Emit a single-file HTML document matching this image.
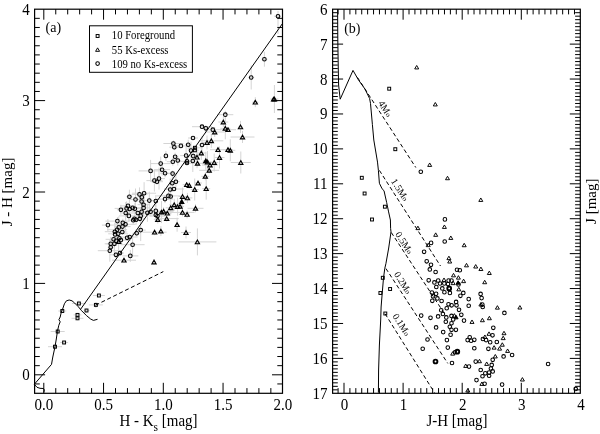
<!DOCTYPE html>
<html><head><meta charset="utf-8"><style>
html,body{margin:0;padding:0;background:#fff;}
svg{display:block;font-family:"Liberation Serif",serif;will-change:transform;}
</style></head><body>
<svg width="600" height="434" viewBox="0 0 600 434">
<rect width="600" height="434" fill="#fff"/>
<line x1="274.00" y1="16.20" x2="281.00" y2="16.20" stroke="#d4d4d4" stroke-width="1.0" />
<line x1="278.00" y1="11.00" x2="278.00" y2="34.00" stroke="#d4d4d4" stroke-width="1.0" />
<line x1="261.40" y1="59.20" x2="267.40" y2="59.20" stroke="#d4d4d4" stroke-width="1.0" />
<line x1="264.40" y1="51.70" x2="264.40" y2="66.70" stroke="#d4d4d4" stroke-width="1.0" />
<line x1="248.20" y1="77.50" x2="254.20" y2="77.50" stroke="#d4d4d4" stroke-width="1.0" />
<line x1="251.20" y1="65.50" x2="251.20" y2="89.50" stroke="#d4d4d4" stroke-width="1.0" />
<line x1="217.30" y1="114.70" x2="233.30" y2="114.70" stroke="#d4d4d4" stroke-width="1.0" />
<line x1="225.30" y1="110.70" x2="225.30" y2="118.70" stroke="#d4d4d4" stroke-width="1.0" />
<line x1="192.00" y1="126.70" x2="212.00" y2="126.70" stroke="#d4d4d4" stroke-width="1.0" />
<line x1="202.00" y1="124.70" x2="202.00" y2="128.70" stroke="#d4d4d4" stroke-width="1.0" />
<line x1="202.80" y1="128.30" x2="208.80" y2="128.30" stroke="#d4d4d4" stroke-width="1.0" />
<line x1="205.80" y1="125.30" x2="205.80" y2="131.30" stroke="#d4d4d4" stroke-width="1.0" />
<line x1="204.80" y1="129.70" x2="220.80" y2="129.70" stroke="#d4d4d4" stroke-width="1.0" />
<line x1="212.80" y1="127.70" x2="212.80" y2="131.70" stroke="#d4d4d4" stroke-width="1.0" />
<line x1="188.00" y1="138.00" x2="198.00" y2="138.00" stroke="#d4d4d4" stroke-width="1.0" />
<line x1="193.00" y1="136.00" x2="193.00" y2="140.00" stroke="#d4d4d4" stroke-width="1.0" />
<line x1="199.00" y1="145.00" x2="205.00" y2="145.00" stroke="#d4d4d4" stroke-width="1.0" />
<line x1="202.00" y1="136.00" x2="202.00" y2="154.00" stroke="#d4d4d4" stroke-width="1.0" />
<line x1="163.40" y1="143.50" x2="183.40" y2="143.50" stroke="#d4d4d4" stroke-width="1.0" />
<line x1="173.40" y1="140.50" x2="173.40" y2="146.50" stroke="#d4d4d4" stroke-width="1.0" />
<line x1="169.30" y1="147.20" x2="179.30" y2="147.20" stroke="#d4d4d4" stroke-width="1.0" />
<line x1="174.30" y1="144.20" x2="174.30" y2="150.20" stroke="#d4d4d4" stroke-width="1.0" />
<line x1="170.90" y1="145.90" x2="190.90" y2="145.90" stroke="#d4d4d4" stroke-width="1.0" />
<line x1="180.90" y1="143.90" x2="180.90" y2="147.90" stroke="#d4d4d4" stroke-width="1.0" />
<line x1="185.20" y1="144.70" x2="191.20" y2="144.70" stroke="#d4d4d4" stroke-width="1.0" />
<line x1="188.20" y1="139.70" x2="188.20" y2="149.70" stroke="#d4d4d4" stroke-width="1.0" />
<line x1="189.00" y1="150.60" x2="193.00" y2="150.60" stroke="#d4d4d4" stroke-width="1.0" />
<line x1="191.00" y1="141.60" x2="191.00" y2="159.60" stroke="#d4d4d4" stroke-width="1.0" />
<line x1="163.90" y1="155.90" x2="167.90" y2="155.90" stroke="#d4d4d4" stroke-width="1.0" />
<line x1="165.90" y1="150.90" x2="165.90" y2="160.90" stroke="#d4d4d4" stroke-width="1.0" />
<line x1="173.10" y1="156.70" x2="177.10" y2="156.70" stroke="#d4d4d4" stroke-width="1.0" />
<line x1="175.10" y1="152.70" x2="175.10" y2="160.70" stroke="#d4d4d4" stroke-width="1.0" />
<line x1="180.10" y1="155.60" x2="192.10" y2="155.60" stroke="#d4d4d4" stroke-width="1.0" />
<line x1="186.10" y1="146.60" x2="186.10" y2="164.60" stroke="#d4d4d4" stroke-width="1.0" />
<line x1="189.20" y1="156.10" x2="197.20" y2="156.10" stroke="#d4d4d4" stroke-width="1.0" />
<line x1="193.20" y1="153.10" x2="193.20" y2="159.10" stroke="#d4d4d4" stroke-width="1.0" />
<line x1="166.80" y1="161.70" x2="178.80" y2="161.70" stroke="#d4d4d4" stroke-width="1.0" />
<line x1="172.80" y1="157.70" x2="172.80" y2="165.70" stroke="#d4d4d4" stroke-width="1.0" />
<line x1="174.80" y1="160.50" x2="180.80" y2="160.50" stroke="#d4d4d4" stroke-width="1.0" />
<line x1="177.80" y1="155.50" x2="177.80" y2="165.50" stroke="#d4d4d4" stroke-width="1.0" />
<line x1="179.00" y1="161.30" x2="195.00" y2="161.30" stroke="#d4d4d4" stroke-width="1.0" />
<line x1="187.00" y1="158.30" x2="187.00" y2="164.30" stroke="#d4d4d4" stroke-width="1.0" />
<line x1="184.00" y1="163.00" x2="190.00" y2="163.00" stroke="#d4d4d4" stroke-width="1.0" />
<line x1="187.00" y1="161.00" x2="187.00" y2="165.00" stroke="#d4d4d4" stroke-width="1.0" />
<line x1="187.80" y1="161.00" x2="197.80" y2="161.00" stroke="#d4d4d4" stroke-width="1.0" />
<line x1="192.80" y1="150.00" x2="192.80" y2="172.00" stroke="#d4d4d4" stroke-width="1.0" />
<line x1="150.70" y1="163.60" x2="170.70" y2="163.60" stroke="#d4d4d4" stroke-width="1.0" />
<line x1="160.70" y1="156.60" x2="160.70" y2="170.60" stroke="#d4d4d4" stroke-width="1.0" />
<line x1="138.60" y1="170.90" x2="162.60" y2="170.90" stroke="#d4d4d4" stroke-width="1.0" />
<line x1="150.60" y1="159.90" x2="150.60" y2="181.90" stroke="#d4d4d4" stroke-width="1.0" />
<line x1="154.10" y1="169.70" x2="170.10" y2="169.70" stroke="#d4d4d4" stroke-width="1.0" />
<line x1="162.10" y1="163.70" x2="162.10" y2="175.70" stroke="#d4d4d4" stroke-width="1.0" />
<line x1="160.10" y1="173.20" x2="170.10" y2="173.20" stroke="#d4d4d4" stroke-width="1.0" />
<line x1="165.10" y1="169.20" x2="165.10" y2="177.20" stroke="#d4d4d4" stroke-width="1.0" />
<line x1="167.60" y1="173.60" x2="177.60" y2="173.60" stroke="#d4d4d4" stroke-width="1.0" />
<line x1="172.60" y1="170.60" x2="172.60" y2="176.60" stroke="#d4d4d4" stroke-width="1.0" />
<line x1="153.00" y1="178.60" x2="165.00" y2="178.60" stroke="#d4d4d4" stroke-width="1.0" />
<line x1="159.00" y1="167.60" x2="159.00" y2="189.60" stroke="#d4d4d4" stroke-width="1.0" />
<line x1="146.40" y1="180.60" x2="162.40" y2="180.60" stroke="#d4d4d4" stroke-width="1.0" />
<line x1="154.40" y1="169.60" x2="154.40" y2="191.60" stroke="#d4d4d4" stroke-width="1.0" />
<line x1="151.00" y1="181.70" x2="163.00" y2="181.70" stroke="#d4d4d4" stroke-width="1.0" />
<line x1="157.00" y1="178.70" x2="157.00" y2="184.70" stroke="#d4d4d4" stroke-width="1.0" />
<line x1="169.30" y1="183.20" x2="175.30" y2="183.20" stroke="#d4d4d4" stroke-width="1.0" />
<line x1="172.30" y1="174.20" x2="172.30" y2="192.20" stroke="#d4d4d4" stroke-width="1.0" />
<line x1="171.90" y1="181.70" x2="179.90" y2="181.70" stroke="#d4d4d4" stroke-width="1.0" />
<line x1="175.90" y1="174.70" x2="175.90" y2="188.70" stroke="#d4d4d4" stroke-width="1.0" />
<line x1="166.20" y1="189.50" x2="174.20" y2="189.50" stroke="#d4d4d4" stroke-width="1.0" />
<line x1="170.20" y1="178.50" x2="170.20" y2="200.50" stroke="#d4d4d4" stroke-width="1.0" />
<line x1="164.00" y1="189.00" x2="184.00" y2="189.00" stroke="#d4d4d4" stroke-width="1.0" />
<line x1="174.00" y1="187.00" x2="174.00" y2="191.00" stroke="#d4d4d4" stroke-width="1.0" />
<line x1="126.40" y1="196.70" x2="132.40" y2="196.70" stroke="#d4d4d4" stroke-width="1.0" />
<line x1="129.40" y1="189.70" x2="129.40" y2="203.70" stroke="#d4d4d4" stroke-width="1.0" />
<line x1="131.50" y1="194.40" x2="147.50" y2="194.40" stroke="#d4d4d4" stroke-width="1.0" />
<line x1="139.50" y1="187.40" x2="139.50" y2="201.40" stroke="#d4d4d4" stroke-width="1.0" />
<line x1="132.10" y1="193.20" x2="156.10" y2="193.20" stroke="#d4d4d4" stroke-width="1.0" />
<line x1="144.10" y1="182.20" x2="144.10" y2="204.20" stroke="#d4d4d4" stroke-width="1.0" />
<line x1="138.80" y1="197.20" x2="144.80" y2="197.20" stroke="#d4d4d4" stroke-width="1.0" />
<line x1="141.80" y1="194.20" x2="141.80" y2="200.20" stroke="#d4d4d4" stroke-width="1.0" />
<line x1="129.50" y1="199.50" x2="141.50" y2="199.50" stroke="#d4d4d4" stroke-width="1.0" />
<line x1="135.50" y1="188.50" x2="135.50" y2="210.50" stroke="#d4d4d4" stroke-width="1.0" />
<line x1="138.60" y1="201.50" x2="144.60" y2="201.50" stroke="#d4d4d4" stroke-width="1.0" />
<line x1="141.60" y1="199.50" x2="141.60" y2="203.50" stroke="#d4d4d4" stroke-width="1.0" />
<line x1="137.60" y1="204.70" x2="149.60" y2="204.70" stroke="#d4d4d4" stroke-width="1.0" />
<line x1="143.60" y1="193.70" x2="143.60" y2="215.70" stroke="#d4d4d4" stroke-width="1.0" />
<line x1="137.60" y1="207.90" x2="149.60" y2="207.90" stroke="#d4d4d4" stroke-width="1.0" />
<line x1="143.60" y1="198.90" x2="143.60" y2="216.90" stroke="#d4d4d4" stroke-width="1.0" />
<line x1="120.00" y1="205.90" x2="136.00" y2="205.90" stroke="#d4d4d4" stroke-width="1.0" />
<line x1="128.00" y1="203.90" x2="128.00" y2="207.90" stroke="#d4d4d4" stroke-width="1.0" />
<line x1="114.60" y1="208.40" x2="138.60" y2="208.40" stroke="#d4d4d4" stroke-width="1.0" />
<line x1="126.60" y1="201.40" x2="126.60" y2="215.40" stroke="#d4d4d4" stroke-width="1.0" />
<line x1="125.70" y1="209.00" x2="133.70" y2="209.00" stroke="#d4d4d4" stroke-width="1.0" />
<line x1="129.70" y1="206.00" x2="129.70" y2="212.00" stroke="#d4d4d4" stroke-width="1.0" />
<line x1="120.60" y1="207.90" x2="144.60" y2="207.90" stroke="#d4d4d4" stroke-width="1.0" />
<line x1="132.60" y1="205.90" x2="132.60" y2="209.90" stroke="#d4d4d4" stroke-width="1.0" />
<line x1="129.90" y1="208.70" x2="139.90" y2="208.70" stroke="#d4d4d4" stroke-width="1.0" />
<line x1="134.90" y1="202.70" x2="134.90" y2="214.70" stroke="#d4d4d4" stroke-width="1.0" />
<line x1="116.90" y1="209.80" x2="124.90" y2="209.80" stroke="#d4d4d4" stroke-width="1.0" />
<line x1="120.90" y1="204.80" x2="120.90" y2="214.80" stroke="#d4d4d4" stroke-width="1.0" />
<line x1="131.60" y1="211.70" x2="151.60" y2="211.70" stroke="#d4d4d4" stroke-width="1.0" />
<line x1="141.60" y1="202.70" x2="141.60" y2="220.70" stroke="#d4d4d4" stroke-width="1.0" />
<line x1="125.80" y1="213.00" x2="149.80" y2="213.00" stroke="#d4d4d4" stroke-width="1.0" />
<line x1="137.80" y1="210.00" x2="137.80" y2="216.00" stroke="#d4d4d4" stroke-width="1.0" />
<line x1="121.70" y1="213.00" x2="129.70" y2="213.00" stroke="#d4d4d4" stroke-width="1.0" />
<line x1="125.70" y1="202.00" x2="125.70" y2="224.00" stroke="#d4d4d4" stroke-width="1.0" />
<line x1="118.90" y1="215.90" x2="138.90" y2="215.90" stroke="#d4d4d4" stroke-width="1.0" />
<line x1="128.90" y1="209.90" x2="128.90" y2="221.90" stroke="#d4d4d4" stroke-width="1.0" />
<line x1="136.70" y1="215.90" x2="144.70" y2="215.90" stroke="#d4d4d4" stroke-width="1.0" />
<line x1="140.70" y1="206.90" x2="140.70" y2="224.90" stroke="#d4d4d4" stroke-width="1.0" />
<line x1="141.40" y1="212.80" x2="153.40" y2="212.80" stroke="#d4d4d4" stroke-width="1.0" />
<line x1="147.40" y1="203.80" x2="147.40" y2="221.80" stroke="#d4d4d4" stroke-width="1.0" />
<line x1="141.30" y1="200.60" x2="157.30" y2="200.60" stroke="#d4d4d4" stroke-width="1.0" />
<line x1="149.30" y1="191.60" x2="149.30" y2="209.60" stroke="#d4d4d4" stroke-width="1.0" />
<line x1="128.20" y1="220.20" x2="138.20" y2="220.20" stroke="#d4d4d4" stroke-width="1.0" />
<line x1="133.20" y1="216.20" x2="133.20" y2="224.20" stroke="#d4d4d4" stroke-width="1.0" />
<line x1="131.40" y1="218.80" x2="137.40" y2="218.80" stroke="#d4d4d4" stroke-width="1.0" />
<line x1="134.40" y1="214.80" x2="134.40" y2="222.80" stroke="#d4d4d4" stroke-width="1.0" />
<line x1="132.10" y1="219.70" x2="140.10" y2="219.70" stroke="#d4d4d4" stroke-width="1.0" />
<line x1="136.10" y1="214.70" x2="136.10" y2="224.70" stroke="#d4d4d4" stroke-width="1.0" />
<line x1="134.80" y1="218.80" x2="144.80" y2="218.80" stroke="#d4d4d4" stroke-width="1.0" />
<line x1="139.80" y1="216.80" x2="139.80" y2="220.80" stroke="#d4d4d4" stroke-width="1.0" />
<line x1="105.40" y1="221.10" x2="129.40" y2="221.10" stroke="#d4d4d4" stroke-width="1.0" />
<line x1="117.40" y1="217.10" x2="117.40" y2="225.10" stroke="#d4d4d4" stroke-width="1.0" />
<line x1="101.90" y1="225.10" x2="113.90" y2="225.10" stroke="#d4d4d4" stroke-width="1.0" />
<line x1="107.90" y1="219.10" x2="107.90" y2="231.10" stroke="#d4d4d4" stroke-width="1.0" />
<line x1="120.80" y1="222.80" x2="124.80" y2="222.80" stroke="#d4d4d4" stroke-width="1.0" />
<line x1="122.80" y1="218.80" x2="122.80" y2="226.80" stroke="#d4d4d4" stroke-width="1.0" />
<line x1="115.50" y1="224.30" x2="135.50" y2="224.30" stroke="#d4d4d4" stroke-width="1.0" />
<line x1="125.50" y1="217.30" x2="125.50" y2="231.30" stroke="#d4d4d4" stroke-width="1.0" />
<line x1="114.50" y1="226.60" x2="130.50" y2="226.60" stroke="#d4d4d4" stroke-width="1.0" />
<line x1="122.50" y1="222.60" x2="122.50" y2="230.60" stroke="#d4d4d4" stroke-width="1.0" />
<line x1="116.80" y1="227.40" x2="120.80" y2="227.40" stroke="#d4d4d4" stroke-width="1.0" />
<line x1="118.80" y1="216.40" x2="118.80" y2="238.40" stroke="#d4d4d4" stroke-width="1.0" />
<line x1="107.10" y1="229.70" x2="127.10" y2="229.70" stroke="#d4d4d4" stroke-width="1.0" />
<line x1="117.10" y1="220.70" x2="117.10" y2="238.70" stroke="#d4d4d4" stroke-width="1.0" />
<line x1="104.80" y1="231.70" x2="124.80" y2="231.70" stroke="#d4d4d4" stroke-width="1.0" />
<line x1="114.80" y1="222.70" x2="114.80" y2="240.70" stroke="#d4d4d4" stroke-width="1.0" />
<line x1="112.10" y1="234.40" x2="118.10" y2="234.40" stroke="#d4d4d4" stroke-width="1.0" />
<line x1="115.10" y1="223.40" x2="115.10" y2="245.40" stroke="#d4d4d4" stroke-width="1.0" />
<line x1="108.20" y1="233.80" x2="128.20" y2="233.80" stroke="#d4d4d4" stroke-width="1.0" />
<line x1="118.20" y1="231.80" x2="118.20" y2="235.80" stroke="#d4d4d4" stroke-width="1.0" />
<line x1="117.30" y1="232.00" x2="127.30" y2="232.00" stroke="#d4d4d4" stroke-width="1.0" />
<line x1="122.30" y1="229.00" x2="122.30" y2="235.00" stroke="#d4d4d4" stroke-width="1.0" />
<line x1="135.70" y1="230.10" x2="145.70" y2="230.10" stroke="#d4d4d4" stroke-width="1.0" />
<line x1="140.70" y1="219.10" x2="140.70" y2="241.10" stroke="#d4d4d4" stroke-width="1.0" />
<line x1="132.70" y1="233.20" x2="140.70" y2="233.20" stroke="#d4d4d4" stroke-width="1.0" />
<line x1="136.70" y1="230.20" x2="136.70" y2="236.20" stroke="#d4d4d4" stroke-width="1.0" />
<line x1="105.60" y1="239.30" x2="121.60" y2="239.30" stroke="#d4d4d4" stroke-width="1.0" />
<line x1="113.60" y1="237.30" x2="113.60" y2="241.30" stroke="#d4d4d4" stroke-width="1.0" />
<line x1="116.40" y1="238.20" x2="122.40" y2="238.20" stroke="#d4d4d4" stroke-width="1.0" />
<line x1="119.40" y1="236.20" x2="119.40" y2="240.20" stroke="#d4d4d4" stroke-width="1.0" />
<line x1="123.10" y1="237.80" x2="131.10" y2="237.80" stroke="#d4d4d4" stroke-width="1.0" />
<line x1="127.10" y1="234.80" x2="127.10" y2="240.80" stroke="#d4d4d4" stroke-width="1.0" />
<line x1="121.70" y1="237.00" x2="137.70" y2="237.00" stroke="#d4d4d4" stroke-width="1.0" />
<line x1="129.70" y1="235.00" x2="129.70" y2="239.00" stroke="#d4d4d4" stroke-width="1.0" />
<line x1="113.30" y1="240.90" x2="119.30" y2="240.90" stroke="#d4d4d4" stroke-width="1.0" />
<line x1="116.30" y1="235.90" x2="116.30" y2="245.90" stroke="#d4d4d4" stroke-width="1.0" />
<line x1="110.90" y1="240.10" x2="130.90" y2="240.10" stroke="#d4d4d4" stroke-width="1.0" />
<line x1="120.90" y1="236.10" x2="120.90" y2="244.10" stroke="#d4d4d4" stroke-width="1.0" />
<line x1="104.70" y1="243.80" x2="116.70" y2="243.80" stroke="#d4d4d4" stroke-width="1.0" />
<line x1="110.70" y1="236.80" x2="110.70" y2="250.80" stroke="#d4d4d4" stroke-width="1.0" />
<line x1="106.40" y1="243.80" x2="122.40" y2="243.80" stroke="#d4d4d4" stroke-width="1.0" />
<line x1="114.40" y1="232.80" x2="114.40" y2="254.80" stroke="#d4d4d4" stroke-width="1.0" />
<line x1="107.70" y1="247.30" x2="113.70" y2="247.30" stroke="#d4d4d4" stroke-width="1.0" />
<line x1="110.70" y1="244.30" x2="110.70" y2="250.30" stroke="#d4d4d4" stroke-width="1.0" />
<line x1="97.80" y1="250.70" x2="121.80" y2="250.70" stroke="#d4d4d4" stroke-width="1.0" />
<line x1="109.80" y1="239.70" x2="109.80" y2="261.70" stroke="#d4d4d4" stroke-width="1.0" />
<line x1="120.60" y1="244.70" x2="144.60" y2="244.70" stroke="#d4d4d4" stroke-width="1.0" />
<line x1="132.60" y1="233.70" x2="132.60" y2="255.70" stroke="#d4d4d4" stroke-width="1.0" />
<line x1="109.90" y1="254.80" x2="121.90" y2="254.80" stroke="#d4d4d4" stroke-width="1.0" />
<line x1="115.90" y1="251.80" x2="115.90" y2="257.80" stroke="#d4d4d4" stroke-width="1.0" />
<line x1="116.00" y1="253.00" x2="124.00" y2="253.00" stroke="#d4d4d4" stroke-width="1.0" />
<line x1="120.00" y1="250.00" x2="120.00" y2="256.00" stroke="#d4d4d4" stroke-width="1.0" />
<line x1="122.30" y1="255.90" x2="138.30" y2="255.90" stroke="#d4d4d4" stroke-width="1.0" />
<line x1="130.30" y1="249.90" x2="130.30" y2="261.90" stroke="#d4d4d4" stroke-width="1.0" />
<line x1="156.40" y1="195.90" x2="180.40" y2="195.90" stroke="#d4d4d4" stroke-width="1.0" />
<line x1="168.40" y1="191.90" x2="168.40" y2="199.90" stroke="#d4d4d4" stroke-width="1.0" />
<line x1="168.70" y1="196.50" x2="172.70" y2="196.50" stroke="#d4d4d4" stroke-width="1.0" />
<line x1="170.70" y1="191.50" x2="170.70" y2="201.50" stroke="#d4d4d4" stroke-width="1.0" />
<line x1="157.00" y1="199.10" x2="173.00" y2="199.10" stroke="#d4d4d4" stroke-width="1.0" />
<line x1="165.00" y1="195.10" x2="165.00" y2="203.10" stroke="#d4d4d4" stroke-width="1.0" />
<line x1="153.80" y1="201.10" x2="157.80" y2="201.10" stroke="#d4d4d4" stroke-width="1.0" />
<line x1="155.80" y1="195.10" x2="155.80" y2="207.10" stroke="#d4d4d4" stroke-width="1.0" />
<line x1="152.80" y1="210.90" x2="158.80" y2="210.90" stroke="#d4d4d4" stroke-width="1.0" />
<line x1="155.80" y1="204.90" x2="155.80" y2="216.90" stroke="#d4d4d4" stroke-width="1.0" />
<line x1="142.60" y1="211.70" x2="158.60" y2="211.70" stroke="#d4d4d4" stroke-width="1.0" />
<line x1="150.60" y1="207.70" x2="150.60" y2="215.70" stroke="#d4d4d4" stroke-width="1.0" />
<line x1="147.80" y1="215.00" x2="163.80" y2="215.00" stroke="#d4d4d4" stroke-width="1.0" />
<line x1="155.80" y1="210.00" x2="155.80" y2="220.00" stroke="#d4d4d4" stroke-width="1.0" />
<line x1="149.50" y1="216.10" x2="165.50" y2="216.10" stroke="#d4d4d4" stroke-width="1.0" />
<line x1="157.50" y1="211.10" x2="157.50" y2="221.10" stroke="#d4d4d4" stroke-width="1.0" />
<line x1="252.30" y1="102.20" x2="258.30" y2="102.20" stroke="#d4d4d4" stroke-width="1.0" />
<line x1="255.30" y1="97.20" x2="255.30" y2="107.20" stroke="#d4d4d4" stroke-width="1.0" />
<line x1="270.40" y1="99.00" x2="278.40" y2="99.00" stroke="#d4d4d4" stroke-width="1.0" />
<line x1="274.40" y1="85.00" x2="274.40" y2="113.00" stroke="#d4d4d4" stroke-width="1.0" />
<line x1="218.30" y1="122.00" x2="228.30" y2="122.00" stroke="#d4d4d4" stroke-width="1.0" />
<line x1="223.30" y1="117.00" x2="223.30" y2="127.00" stroke="#d4d4d4" stroke-width="1.0" />
<line x1="204.70" y1="132.00" x2="224.70" y2="132.00" stroke="#d4d4d4" stroke-width="1.0" />
<line x1="214.70" y1="127.00" x2="214.70" y2="137.00" stroke="#d4d4d4" stroke-width="1.0" />
<line x1="220.30" y1="128.30" x2="230.30" y2="128.30" stroke="#d4d4d4" stroke-width="1.0" />
<line x1="225.30" y1="117.30" x2="225.30" y2="139.30" stroke="#d4d4d4" stroke-width="1.0" />
<line x1="220.00" y1="129.70" x2="236.00" y2="129.70" stroke="#d4d4d4" stroke-width="1.0" />
<line x1="228.00" y1="127.70" x2="228.00" y2="131.70" stroke="#d4d4d4" stroke-width="1.0" />
<line x1="238.50" y1="126.90" x2="242.50" y2="126.90" stroke="#d4d4d4" stroke-width="1.0" />
<line x1="240.50" y1="120.90" x2="240.50" y2="132.90" stroke="#d4d4d4" stroke-width="1.0" />
<line x1="230.50" y1="137.00" x2="254.50" y2="137.00" stroke="#d4d4d4" stroke-width="1.0" />
<line x1="242.50" y1="131.00" x2="242.50" y2="143.00" stroke="#d4d4d4" stroke-width="1.0" />
<line x1="202.00" y1="142.50" x2="212.00" y2="142.50" stroke="#d4d4d4" stroke-width="1.0" />
<line x1="207.00" y1="135.50" x2="207.00" y2="149.50" stroke="#d4d4d4" stroke-width="1.0" />
<line x1="199.30" y1="140.80" x2="223.30" y2="140.80" stroke="#d4d4d4" stroke-width="1.0" />
<line x1="211.30" y1="133.80" x2="211.30" y2="147.80" stroke="#d4d4d4" stroke-width="1.0" />
<line x1="210.00" y1="149.70" x2="226.00" y2="149.70" stroke="#d4d4d4" stroke-width="1.0" />
<line x1="218.00" y1="146.70" x2="218.00" y2="152.70" stroke="#d4d4d4" stroke-width="1.0" />
<line x1="223.00" y1="149.70" x2="233.00" y2="149.70" stroke="#d4d4d4" stroke-width="1.0" />
<line x1="228.00" y1="146.70" x2="228.00" y2="152.70" stroke="#d4d4d4" stroke-width="1.0" />
<line x1="225.30" y1="150.30" x2="235.30" y2="150.30" stroke="#d4d4d4" stroke-width="1.0" />
<line x1="230.30" y1="139.30" x2="230.30" y2="161.30" stroke="#d4d4d4" stroke-width="1.0" />
<line x1="196.30" y1="153.00" x2="206.30" y2="153.00" stroke="#d4d4d4" stroke-width="1.0" />
<line x1="201.30" y1="146.00" x2="201.30" y2="160.00" stroke="#d4d4d4" stroke-width="1.0" />
<line x1="214.50" y1="157.50" x2="224.50" y2="157.50" stroke="#d4d4d4" stroke-width="1.0" />
<line x1="219.50" y1="146.50" x2="219.50" y2="168.50" stroke="#d4d4d4" stroke-width="1.0" />
<line x1="195.00" y1="157.20" x2="199.00" y2="157.20" stroke="#d4d4d4" stroke-width="1.0" />
<line x1="197.00" y1="146.20" x2="197.00" y2="168.20" stroke="#d4d4d4" stroke-width="1.0" />
<line x1="189.50" y1="163.30" x2="205.50" y2="163.30" stroke="#d4d4d4" stroke-width="1.0" />
<line x1="197.50" y1="160.30" x2="197.50" y2="166.30" stroke="#d4d4d4" stroke-width="1.0" />
<line x1="202.80" y1="160.80" x2="208.80" y2="160.80" stroke="#d4d4d4" stroke-width="1.0" />
<line x1="205.80" y1="151.80" x2="205.80" y2="169.80" stroke="#d4d4d4" stroke-width="1.0" />
<line x1="202.50" y1="162.00" x2="212.50" y2="162.00" stroke="#d4d4d4" stroke-width="1.0" />
<line x1="207.50" y1="151.00" x2="207.50" y2="173.00" stroke="#d4d4d4" stroke-width="1.0" />
<line x1="210.20" y1="162.50" x2="218.20" y2="162.50" stroke="#d4d4d4" stroke-width="1.0" />
<line x1="214.20" y1="153.50" x2="214.20" y2="171.50" stroke="#d4d4d4" stroke-width="1.0" />
<line x1="202.00" y1="165.00" x2="218.00" y2="165.00" stroke="#d4d4d4" stroke-width="1.0" />
<line x1="210.00" y1="162.00" x2="210.00" y2="168.00" stroke="#d4d4d4" stroke-width="1.0" />
<line x1="230.80" y1="162.50" x2="250.80" y2="162.50" stroke="#d4d4d4" stroke-width="1.0" />
<line x1="240.80" y1="151.50" x2="240.80" y2="173.50" stroke="#d4d4d4" stroke-width="1.0" />
<line x1="199.20" y1="170.30" x2="219.20" y2="170.30" stroke="#d4d4d4" stroke-width="1.0" />
<line x1="209.20" y1="167.30" x2="209.20" y2="173.30" stroke="#d4d4d4" stroke-width="1.0" />
<line x1="201.30" y1="176.30" x2="209.30" y2="176.30" stroke="#d4d4d4" stroke-width="1.0" />
<line x1="205.30" y1="172.30" x2="205.30" y2="180.30" stroke="#d4d4d4" stroke-width="1.0" />
<line x1="194.00" y1="183.00" x2="202.00" y2="183.00" stroke="#d4d4d4" stroke-width="1.0" />
<line x1="198.00" y1="181.00" x2="198.00" y2="185.00" stroke="#d4d4d4" stroke-width="1.0" />
<line x1="190.70" y1="189.50" x2="198.70" y2="189.50" stroke="#d4d4d4" stroke-width="1.0" />
<line x1="194.70" y1="178.50" x2="194.70" y2="200.50" stroke="#d4d4d4" stroke-width="1.0" />
<line x1="202.20" y1="188.70" x2="210.20" y2="188.70" stroke="#d4d4d4" stroke-width="1.0" />
<line x1="206.20" y1="177.70" x2="206.20" y2="199.70" stroke="#d4d4d4" stroke-width="1.0" />
<line x1="187.50" y1="208.30" x2="203.50" y2="208.30" stroke="#d4d4d4" stroke-width="1.0" />
<line x1="195.50" y1="204.30" x2="195.50" y2="212.30" stroke="#d4d4d4" stroke-width="1.0" />
<line x1="182.70" y1="184.70" x2="190.70" y2="184.70" stroke="#d4d4d4" stroke-width="1.0" />
<line x1="186.70" y1="182.70" x2="186.70" y2="186.70" stroke="#d4d4d4" stroke-width="1.0" />
<line x1="187.30" y1="185.50" x2="191.30" y2="185.50" stroke="#d4d4d4" stroke-width="1.0" />
<line x1="189.30" y1="182.50" x2="189.30" y2="188.50" stroke="#d4d4d4" stroke-width="1.0" />
<line x1="178.50" y1="196.50" x2="186.50" y2="196.50" stroke="#d4d4d4" stroke-width="1.0" />
<line x1="182.50" y1="187.50" x2="182.50" y2="205.50" stroke="#d4d4d4" stroke-width="1.0" />
<line x1="182.40" y1="197.90" x2="192.40" y2="197.90" stroke="#d4d4d4" stroke-width="1.0" />
<line x1="187.40" y1="192.90" x2="187.40" y2="202.90" stroke="#d4d4d4" stroke-width="1.0" />
<line x1="179.70" y1="201.70" x2="183.70" y2="201.70" stroke="#d4d4d4" stroke-width="1.0" />
<line x1="181.70" y1="195.70" x2="181.70" y2="207.70" stroke="#d4d4d4" stroke-width="1.0" />
<line x1="169.20" y1="204.80" x2="179.20" y2="204.80" stroke="#d4d4d4" stroke-width="1.0" />
<line x1="174.20" y1="198.80" x2="174.20" y2="210.80" stroke="#d4d4d4" stroke-width="1.0" />
<line x1="165.70" y1="207.80" x2="175.70" y2="207.80" stroke="#d4d4d4" stroke-width="1.0" />
<line x1="170.70" y1="200.80" x2="170.70" y2="214.80" stroke="#d4d4d4" stroke-width="1.0" />
<line x1="171.60" y1="206.70" x2="183.60" y2="206.70" stroke="#d4d4d4" stroke-width="1.0" />
<line x1="177.60" y1="197.70" x2="177.60" y2="215.70" stroke="#d4d4d4" stroke-width="1.0" />
<line x1="176.00" y1="206.30" x2="184.00" y2="206.30" stroke="#d4d4d4" stroke-width="1.0" />
<line x1="180.00" y1="204.30" x2="180.00" y2="208.30" stroke="#d4d4d4" stroke-width="1.0" />
<line x1="153.50" y1="212.10" x2="169.50" y2="212.10" stroke="#d4d4d4" stroke-width="1.0" />
<line x1="161.50" y1="201.10" x2="161.50" y2="223.10" stroke="#d4d4d4" stroke-width="1.0" />
<line x1="153.60" y1="211.30" x2="173.60" y2="211.30" stroke="#d4d4d4" stroke-width="1.0" />
<line x1="163.60" y1="207.30" x2="163.60" y2="215.30" stroke="#d4d4d4" stroke-width="1.0" />
<line x1="163.30" y1="213.20" x2="171.30" y2="213.20" stroke="#d4d4d4" stroke-width="1.0" />
<line x1="167.30" y1="211.20" x2="167.30" y2="215.20" stroke="#d4d4d4" stroke-width="1.0" />
<line x1="170.50" y1="212.40" x2="194.50" y2="212.40" stroke="#d4d4d4" stroke-width="1.0" />
<line x1="182.50" y1="208.40" x2="182.50" y2="216.40" stroke="#d4d4d4" stroke-width="1.0" />
<line x1="185.10" y1="214.40" x2="189.10" y2="214.40" stroke="#d4d4d4" stroke-width="1.0" />
<line x1="187.10" y1="210.40" x2="187.10" y2="218.40" stroke="#d4d4d4" stroke-width="1.0" />
<line x1="153.80" y1="219.60" x2="161.80" y2="219.60" stroke="#d4d4d4" stroke-width="1.0" />
<line x1="157.80" y1="215.60" x2="157.80" y2="223.60" stroke="#d4d4d4" stroke-width="1.0" />
<line x1="154.70" y1="218.60" x2="178.70" y2="218.60" stroke="#d4d4d4" stroke-width="1.0" />
<line x1="166.70" y1="215.60" x2="166.70" y2="221.60" stroke="#d4d4d4" stroke-width="1.0" />
<line x1="175.10" y1="224.70" x2="179.10" y2="224.70" stroke="#d4d4d4" stroke-width="1.0" />
<line x1="177.10" y1="217.70" x2="177.10" y2="231.70" stroke="#d4d4d4" stroke-width="1.0" />
<line x1="142.60" y1="232.20" x2="166.60" y2="232.20" stroke="#d4d4d4" stroke-width="1.0" />
<line x1="154.60" y1="229.20" x2="154.60" y2="235.20" stroke="#d4d4d4" stroke-width="1.0" />
<line x1="158.90" y1="231.10" x2="162.90" y2="231.10" stroke="#d4d4d4" stroke-width="1.0" />
<line x1="160.90" y1="226.10" x2="160.90" y2="236.10" stroke="#d4d4d4" stroke-width="1.0" />
<line x1="181.00" y1="232.50" x2="191.00" y2="232.50" stroke="#d4d4d4" stroke-width="1.0" />
<line x1="186.00" y1="226.50" x2="186.00" y2="238.50" stroke="#d4d4d4" stroke-width="1.0" />
<line x1="178.40" y1="241.90" x2="216.40" y2="241.90" stroke="#d4d4d4" stroke-width="1.0" />
<line x1="197.40" y1="228.40" x2="197.40" y2="255.40" stroke="#d4d4d4" stroke-width="1.0" />
<line x1="152.00" y1="262.00" x2="156.00" y2="262.00" stroke="#d4d4d4" stroke-width="1.0" />
<line x1="154.00" y1="259.00" x2="154.00" y2="265.00" stroke="#d4d4d4" stroke-width="1.0" />
<line x1="112.00" y1="260.20" x2="136.00" y2="260.20" stroke="#d4d4d4" stroke-width="1.0" />
<line x1="124.00" y1="258.20" x2="124.00" y2="262.20" stroke="#d4d4d4" stroke-width="1.0" />
<line x1="115.60" y1="241.50" x2="121.60" y2="241.50" stroke="#d4d4d4" stroke-width="1.0" />
<line x1="118.60" y1="230.50" x2="118.60" y2="252.50" stroke="#d4d4d4" stroke-width="1.0" />
<line x1="188.90" y1="147.80" x2="200.90" y2="147.80" stroke="#d4d4d4" stroke-width="1.0" />
<line x1="194.90" y1="145.80" x2="194.90" y2="149.80" stroke="#d4d4d4" stroke-width="1.0" />
<line x1="190.90" y1="150.30" x2="198.90" y2="150.30" stroke="#d4d4d4" stroke-width="1.0" />
<line x1="194.90" y1="148.30" x2="194.90" y2="152.30" stroke="#d4d4d4" stroke-width="1.0" />
<line x1="92.90" y1="295.50" x2="104.90" y2="295.50" stroke="#d4d4d4" stroke-width="1.0" />
<line x1="98.90" y1="293.50" x2="98.90" y2="297.50" stroke="#d4d4d4" stroke-width="1.0" />
<line x1="88.90" y1="304.90" x2="102.90" y2="304.90" stroke="#d4d4d4" stroke-width="1.0" />
<line x1="95.90" y1="301.90" x2="95.90" y2="307.90" stroke="#d4d4d4" stroke-width="1.0" />
<line x1="71.90" y1="303.50" x2="85.90" y2="303.50" stroke="#d4d4d4" stroke-width="1.0" />
<line x1="78.90" y1="300.50" x2="78.90" y2="306.50" stroke="#d4d4d4" stroke-width="1.0" />
<line x1="73.50" y1="314.90" x2="81.50" y2="314.90" stroke="#d4d4d4" stroke-width="1.0" />
<line x1="77.50" y1="312.90" x2="77.50" y2="316.90" stroke="#d4d4d4" stroke-width="1.0" />
<line x1="71.50" y1="318.30" x2="83.50" y2="318.30" stroke="#d4d4d4" stroke-width="1.0" />
<line x1="77.50" y1="316.30" x2="77.50" y2="320.30" stroke="#d4d4d4" stroke-width="1.0" />
<line x1="58.30" y1="311.00" x2="66.30" y2="311.00" stroke="#d4d4d4" stroke-width="1.0" />
<line x1="62.30" y1="309.00" x2="62.30" y2="313.00" stroke="#d4d4d4" stroke-width="1.0" />
<line x1="50.70" y1="331.50" x2="64.70" y2="331.50" stroke="#d4d4d4" stroke-width="1.0" />
<line x1="57.70" y1="328.50" x2="57.70" y2="334.50" stroke="#d4d4d4" stroke-width="1.0" />
<line x1="60.10" y1="342.50" x2="68.10" y2="342.50" stroke="#d4d4d4" stroke-width="1.0" />
<line x1="64.10" y1="340.50" x2="64.10" y2="344.50" stroke="#d4d4d4" stroke-width="1.0" />
<line x1="48.00" y1="346.70" x2="62.00" y2="346.70" stroke="#d4d4d4" stroke-width="1.0" />
<line x1="55.00" y1="343.70" x2="55.00" y2="349.70" stroke="#d4d4d4" stroke-width="1.0" />
<line x1="83.50" y1="310.50" x2="89.50" y2="310.50" stroke="#d4d4d4" stroke-width="1.0" />
<line x1="86.50" y1="308.50" x2="86.50" y2="312.50" stroke="#d4d4d4" stroke-width="1.0" />
<line x1="43.80" y1="393.30" x2="43.80" y2="382.80" stroke="#000" stroke-width="1.0" />
<line x1="43.80" y1="9.20" x2="43.80" y2="19.70" stroke="#000" stroke-width="1.0" />
<line x1="55.75" y1="393.30" x2="55.75" y2="388.10" stroke="#000" stroke-width="1.0" />
<line x1="55.75" y1="9.20" x2="55.75" y2="14.40" stroke="#000" stroke-width="1.0" />
<line x1="67.70" y1="393.30" x2="67.70" y2="388.10" stroke="#000" stroke-width="1.0" />
<line x1="67.70" y1="9.20" x2="67.70" y2="14.40" stroke="#000" stroke-width="1.0" />
<line x1="79.65" y1="393.30" x2="79.65" y2="388.10" stroke="#000" stroke-width="1.0" />
<line x1="79.65" y1="9.20" x2="79.65" y2="14.40" stroke="#000" stroke-width="1.0" />
<line x1="91.60" y1="393.30" x2="91.60" y2="388.10" stroke="#000" stroke-width="1.0" />
<line x1="91.60" y1="9.20" x2="91.60" y2="14.40" stroke="#000" stroke-width="1.0" />
<line x1="103.55" y1="393.30" x2="103.55" y2="382.80" stroke="#000" stroke-width="1.0" />
<line x1="103.55" y1="9.20" x2="103.55" y2="19.70" stroke="#000" stroke-width="1.0" />
<line x1="115.50" y1="393.30" x2="115.50" y2="388.10" stroke="#000" stroke-width="1.0" />
<line x1="115.50" y1="9.20" x2="115.50" y2="14.40" stroke="#000" stroke-width="1.0" />
<line x1="127.45" y1="393.30" x2="127.45" y2="388.10" stroke="#000" stroke-width="1.0" />
<line x1="127.45" y1="9.20" x2="127.45" y2="14.40" stroke="#000" stroke-width="1.0" />
<line x1="139.40" y1="393.30" x2="139.40" y2="388.10" stroke="#000" stroke-width="1.0" />
<line x1="139.40" y1="9.20" x2="139.40" y2="14.40" stroke="#000" stroke-width="1.0" />
<line x1="151.35" y1="393.30" x2="151.35" y2="388.10" stroke="#000" stroke-width="1.0" />
<line x1="151.35" y1="9.20" x2="151.35" y2="14.40" stroke="#000" stroke-width="1.0" />
<line x1="163.30" y1="393.30" x2="163.30" y2="382.80" stroke="#000" stroke-width="1.0" />
<line x1="163.30" y1="9.20" x2="163.30" y2="19.70" stroke="#000" stroke-width="1.0" />
<line x1="175.25" y1="393.30" x2="175.25" y2="388.10" stroke="#000" stroke-width="1.0" />
<line x1="175.25" y1="9.20" x2="175.25" y2="14.40" stroke="#000" stroke-width="1.0" />
<line x1="187.20" y1="393.30" x2="187.20" y2="388.10" stroke="#000" stroke-width="1.0" />
<line x1="187.20" y1="9.20" x2="187.20" y2="14.40" stroke="#000" stroke-width="1.0" />
<line x1="199.15" y1="393.30" x2="199.15" y2="388.10" stroke="#000" stroke-width="1.0" />
<line x1="199.15" y1="9.20" x2="199.15" y2="14.40" stroke="#000" stroke-width="1.0" />
<line x1="211.10" y1="393.30" x2="211.10" y2="388.10" stroke="#000" stroke-width="1.0" />
<line x1="211.10" y1="9.20" x2="211.10" y2="14.40" stroke="#000" stroke-width="1.0" />
<line x1="223.05" y1="393.30" x2="223.05" y2="382.80" stroke="#000" stroke-width="1.0" />
<line x1="223.05" y1="9.20" x2="223.05" y2="19.70" stroke="#000" stroke-width="1.0" />
<line x1="235.00" y1="393.30" x2="235.00" y2="388.10" stroke="#000" stroke-width="1.0" />
<line x1="235.00" y1="9.20" x2="235.00" y2="14.40" stroke="#000" stroke-width="1.0" />
<line x1="246.95" y1="393.30" x2="246.95" y2="388.10" stroke="#000" stroke-width="1.0" />
<line x1="246.95" y1="9.20" x2="246.95" y2="14.40" stroke="#000" stroke-width="1.0" />
<line x1="258.90" y1="393.30" x2="258.90" y2="388.10" stroke="#000" stroke-width="1.0" />
<line x1="258.90" y1="9.20" x2="258.90" y2="14.40" stroke="#000" stroke-width="1.0" />
<line x1="270.85" y1="393.30" x2="270.85" y2="388.10" stroke="#000" stroke-width="1.0" />
<line x1="270.85" y1="9.20" x2="270.85" y2="14.40" stroke="#000" stroke-width="1.0" />
<line x1="34.60" y1="383.94" x2="39.80" y2="383.94" stroke="#000" stroke-width="1.0" />
<line x1="282.50" y1="383.94" x2="277.30" y2="383.94" stroke="#000" stroke-width="1.0" />
<line x1="34.60" y1="374.80" x2="45.10" y2="374.80" stroke="#000" stroke-width="1.0" />
<line x1="282.50" y1="374.80" x2="272.00" y2="374.80" stroke="#000" stroke-width="1.0" />
<line x1="34.60" y1="365.66" x2="39.80" y2="365.66" stroke="#000" stroke-width="1.0" />
<line x1="282.50" y1="365.66" x2="277.30" y2="365.66" stroke="#000" stroke-width="1.0" />
<line x1="34.60" y1="356.52" x2="39.80" y2="356.52" stroke="#000" stroke-width="1.0" />
<line x1="282.50" y1="356.52" x2="277.30" y2="356.52" stroke="#000" stroke-width="1.0" />
<line x1="34.60" y1="347.38" x2="39.80" y2="347.38" stroke="#000" stroke-width="1.0" />
<line x1="282.50" y1="347.38" x2="277.30" y2="347.38" stroke="#000" stroke-width="1.0" />
<line x1="34.60" y1="338.24" x2="39.80" y2="338.24" stroke="#000" stroke-width="1.0" />
<line x1="282.50" y1="338.24" x2="277.30" y2="338.24" stroke="#000" stroke-width="1.0" />
<line x1="34.60" y1="329.10" x2="39.80" y2="329.10" stroke="#000" stroke-width="1.0" />
<line x1="282.50" y1="329.10" x2="277.30" y2="329.10" stroke="#000" stroke-width="1.0" />
<line x1="34.60" y1="319.96" x2="39.80" y2="319.96" stroke="#000" stroke-width="1.0" />
<line x1="282.50" y1="319.96" x2="277.30" y2="319.96" stroke="#000" stroke-width="1.0" />
<line x1="34.60" y1="310.82" x2="39.80" y2="310.82" stroke="#000" stroke-width="1.0" />
<line x1="282.50" y1="310.82" x2="277.30" y2="310.82" stroke="#000" stroke-width="1.0" />
<line x1="34.60" y1="301.68" x2="39.80" y2="301.68" stroke="#000" stroke-width="1.0" />
<line x1="282.50" y1="301.68" x2="277.30" y2="301.68" stroke="#000" stroke-width="1.0" />
<line x1="34.60" y1="292.54" x2="39.80" y2="292.54" stroke="#000" stroke-width="1.0" />
<line x1="282.50" y1="292.54" x2="277.30" y2="292.54" stroke="#000" stroke-width="1.0" />
<line x1="34.60" y1="283.40" x2="45.10" y2="283.40" stroke="#000" stroke-width="1.0" />
<line x1="282.50" y1="283.40" x2="272.00" y2="283.40" stroke="#000" stroke-width="1.0" />
<line x1="34.60" y1="274.26" x2="39.80" y2="274.26" stroke="#000" stroke-width="1.0" />
<line x1="282.50" y1="274.26" x2="277.30" y2="274.26" stroke="#000" stroke-width="1.0" />
<line x1="34.60" y1="265.12" x2="39.80" y2="265.12" stroke="#000" stroke-width="1.0" />
<line x1="282.50" y1="265.12" x2="277.30" y2="265.12" stroke="#000" stroke-width="1.0" />
<line x1="34.60" y1="255.98" x2="39.80" y2="255.98" stroke="#000" stroke-width="1.0" />
<line x1="282.50" y1="255.98" x2="277.30" y2="255.98" stroke="#000" stroke-width="1.0" />
<line x1="34.60" y1="246.84" x2="39.80" y2="246.84" stroke="#000" stroke-width="1.0" />
<line x1="282.50" y1="246.84" x2="277.30" y2="246.84" stroke="#000" stroke-width="1.0" />
<line x1="34.60" y1="237.70" x2="39.80" y2="237.70" stroke="#000" stroke-width="1.0" />
<line x1="282.50" y1="237.70" x2="277.30" y2="237.70" stroke="#000" stroke-width="1.0" />
<line x1="34.60" y1="228.56" x2="39.80" y2="228.56" stroke="#000" stroke-width="1.0" />
<line x1="282.50" y1="228.56" x2="277.30" y2="228.56" stroke="#000" stroke-width="1.0" />
<line x1="34.60" y1="219.42" x2="39.80" y2="219.42" stroke="#000" stroke-width="1.0" />
<line x1="282.50" y1="219.42" x2="277.30" y2="219.42" stroke="#000" stroke-width="1.0" />
<line x1="34.60" y1="210.28" x2="39.80" y2="210.28" stroke="#000" stroke-width="1.0" />
<line x1="282.50" y1="210.28" x2="277.30" y2="210.28" stroke="#000" stroke-width="1.0" />
<line x1="34.60" y1="201.14" x2="39.80" y2="201.14" stroke="#000" stroke-width="1.0" />
<line x1="282.50" y1="201.14" x2="277.30" y2="201.14" stroke="#000" stroke-width="1.0" />
<line x1="34.60" y1="192.00" x2="45.10" y2="192.00" stroke="#000" stroke-width="1.0" />
<line x1="282.50" y1="192.00" x2="272.00" y2="192.00" stroke="#000" stroke-width="1.0" />
<line x1="34.60" y1="182.86" x2="39.80" y2="182.86" stroke="#000" stroke-width="1.0" />
<line x1="282.50" y1="182.86" x2="277.30" y2="182.86" stroke="#000" stroke-width="1.0" />
<line x1="34.60" y1="173.72" x2="39.80" y2="173.72" stroke="#000" stroke-width="1.0" />
<line x1="282.50" y1="173.72" x2="277.30" y2="173.72" stroke="#000" stroke-width="1.0" />
<line x1="34.60" y1="164.58" x2="39.80" y2="164.58" stroke="#000" stroke-width="1.0" />
<line x1="282.50" y1="164.58" x2="277.30" y2="164.58" stroke="#000" stroke-width="1.0" />
<line x1="34.60" y1="155.44" x2="39.80" y2="155.44" stroke="#000" stroke-width="1.0" />
<line x1="282.50" y1="155.44" x2="277.30" y2="155.44" stroke="#000" stroke-width="1.0" />
<line x1="34.60" y1="146.30" x2="39.80" y2="146.30" stroke="#000" stroke-width="1.0" />
<line x1="282.50" y1="146.30" x2="277.30" y2="146.30" stroke="#000" stroke-width="1.0" />
<line x1="34.60" y1="137.16" x2="39.80" y2="137.16" stroke="#000" stroke-width="1.0" />
<line x1="282.50" y1="137.16" x2="277.30" y2="137.16" stroke="#000" stroke-width="1.0" />
<line x1="34.60" y1="128.02" x2="39.80" y2="128.02" stroke="#000" stroke-width="1.0" />
<line x1="282.50" y1="128.02" x2="277.30" y2="128.02" stroke="#000" stroke-width="1.0" />
<line x1="34.60" y1="118.88" x2="39.80" y2="118.88" stroke="#000" stroke-width="1.0" />
<line x1="282.50" y1="118.88" x2="277.30" y2="118.88" stroke="#000" stroke-width="1.0" />
<line x1="34.60" y1="109.74" x2="39.80" y2="109.74" stroke="#000" stroke-width="1.0" />
<line x1="282.50" y1="109.74" x2="277.30" y2="109.74" stroke="#000" stroke-width="1.0" />
<line x1="34.60" y1="100.60" x2="45.10" y2="100.60" stroke="#000" stroke-width="1.0" />
<line x1="282.50" y1="100.60" x2="272.00" y2="100.60" stroke="#000" stroke-width="1.0" />
<line x1="34.60" y1="91.46" x2="39.80" y2="91.46" stroke="#000" stroke-width="1.0" />
<line x1="282.50" y1="91.46" x2="277.30" y2="91.46" stroke="#000" stroke-width="1.0" />
<line x1="34.60" y1="82.32" x2="39.80" y2="82.32" stroke="#000" stroke-width="1.0" />
<line x1="282.50" y1="82.32" x2="277.30" y2="82.32" stroke="#000" stroke-width="1.0" />
<line x1="34.60" y1="73.18" x2="39.80" y2="73.18" stroke="#000" stroke-width="1.0" />
<line x1="282.50" y1="73.18" x2="277.30" y2="73.18" stroke="#000" stroke-width="1.0" />
<line x1="34.60" y1="64.04" x2="39.80" y2="64.04" stroke="#000" stroke-width="1.0" />
<line x1="282.50" y1="64.04" x2="277.30" y2="64.04" stroke="#000" stroke-width="1.0" />
<line x1="34.60" y1="54.90" x2="39.80" y2="54.90" stroke="#000" stroke-width="1.0" />
<line x1="282.50" y1="54.90" x2="277.30" y2="54.90" stroke="#000" stroke-width="1.0" />
<line x1="34.60" y1="45.76" x2="39.80" y2="45.76" stroke="#000" stroke-width="1.0" />
<line x1="282.50" y1="45.76" x2="277.30" y2="45.76" stroke="#000" stroke-width="1.0" />
<line x1="34.60" y1="36.62" x2="39.80" y2="36.62" stroke="#000" stroke-width="1.0" />
<line x1="282.50" y1="36.62" x2="277.30" y2="36.62" stroke="#000" stroke-width="1.0" />
<line x1="34.60" y1="27.48" x2="39.80" y2="27.48" stroke="#000" stroke-width="1.0" />
<line x1="282.50" y1="27.48" x2="277.30" y2="27.48" stroke="#000" stroke-width="1.0" />
<line x1="34.60" y1="18.34" x2="39.80" y2="18.34" stroke="#000" stroke-width="1.0" />
<line x1="282.50" y1="18.34" x2="277.30" y2="18.34" stroke="#000" stroke-width="1.0" />
<line x1="338.09" y1="393.30" x2="338.09" y2="388.10" stroke="#000" stroke-width="1.0" />
<line x1="338.09" y1="9.20" x2="338.09" y2="14.40" stroke="#000" stroke-width="1.0" />
<line x1="344.00" y1="393.30" x2="344.00" y2="382.80" stroke="#000" stroke-width="1.0" />
<line x1="344.00" y1="9.20" x2="344.00" y2="19.70" stroke="#000" stroke-width="1.0" />
<line x1="349.91" y1="393.30" x2="349.91" y2="388.10" stroke="#000" stroke-width="1.0" />
<line x1="349.91" y1="9.20" x2="349.91" y2="14.40" stroke="#000" stroke-width="1.0" />
<line x1="355.82" y1="393.30" x2="355.82" y2="388.10" stroke="#000" stroke-width="1.0" />
<line x1="355.82" y1="9.20" x2="355.82" y2="14.40" stroke="#000" stroke-width="1.0" />
<line x1="361.73" y1="393.30" x2="361.73" y2="388.10" stroke="#000" stroke-width="1.0" />
<line x1="361.73" y1="9.20" x2="361.73" y2="14.40" stroke="#000" stroke-width="1.0" />
<line x1="367.64" y1="393.30" x2="367.64" y2="388.10" stroke="#000" stroke-width="1.0" />
<line x1="367.64" y1="9.20" x2="367.64" y2="14.40" stroke="#000" stroke-width="1.0" />
<line x1="373.55" y1="393.30" x2="373.55" y2="388.10" stroke="#000" stroke-width="1.0" />
<line x1="373.55" y1="9.20" x2="373.55" y2="14.40" stroke="#000" stroke-width="1.0" />
<line x1="379.46" y1="393.30" x2="379.46" y2="388.10" stroke="#000" stroke-width="1.0" />
<line x1="379.46" y1="9.20" x2="379.46" y2="14.40" stroke="#000" stroke-width="1.0" />
<line x1="385.37" y1="393.30" x2="385.37" y2="388.10" stroke="#000" stroke-width="1.0" />
<line x1="385.37" y1="9.20" x2="385.37" y2="14.40" stroke="#000" stroke-width="1.0" />
<line x1="391.28" y1="393.30" x2="391.28" y2="388.10" stroke="#000" stroke-width="1.0" />
<line x1="391.28" y1="9.20" x2="391.28" y2="14.40" stroke="#000" stroke-width="1.0" />
<line x1="397.19" y1="393.30" x2="397.19" y2="388.10" stroke="#000" stroke-width="1.0" />
<line x1="397.19" y1="9.20" x2="397.19" y2="14.40" stroke="#000" stroke-width="1.0" />
<line x1="403.10" y1="393.30" x2="403.10" y2="382.80" stroke="#000" stroke-width="1.0" />
<line x1="403.10" y1="9.20" x2="403.10" y2="19.70" stroke="#000" stroke-width="1.0" />
<line x1="409.01" y1="393.30" x2="409.01" y2="388.10" stroke="#000" stroke-width="1.0" />
<line x1="409.01" y1="9.20" x2="409.01" y2="14.40" stroke="#000" stroke-width="1.0" />
<line x1="414.92" y1="393.30" x2="414.92" y2="388.10" stroke="#000" stroke-width="1.0" />
<line x1="414.92" y1="9.20" x2="414.92" y2="14.40" stroke="#000" stroke-width="1.0" />
<line x1="420.83" y1="393.30" x2="420.83" y2="388.10" stroke="#000" stroke-width="1.0" />
<line x1="420.83" y1="9.20" x2="420.83" y2="14.40" stroke="#000" stroke-width="1.0" />
<line x1="426.74" y1="393.30" x2="426.74" y2="388.10" stroke="#000" stroke-width="1.0" />
<line x1="426.74" y1="9.20" x2="426.74" y2="14.40" stroke="#000" stroke-width="1.0" />
<line x1="432.65" y1="393.30" x2="432.65" y2="388.10" stroke="#000" stroke-width="1.0" />
<line x1="432.65" y1="9.20" x2="432.65" y2="14.40" stroke="#000" stroke-width="1.0" />
<line x1="438.56" y1="393.30" x2="438.56" y2="388.10" stroke="#000" stroke-width="1.0" />
<line x1="438.56" y1="9.20" x2="438.56" y2="14.40" stroke="#000" stroke-width="1.0" />
<line x1="444.47" y1="393.30" x2="444.47" y2="388.10" stroke="#000" stroke-width="1.0" />
<line x1="444.47" y1="9.20" x2="444.47" y2="14.40" stroke="#000" stroke-width="1.0" />
<line x1="450.38" y1="393.30" x2="450.38" y2="388.10" stroke="#000" stroke-width="1.0" />
<line x1="450.38" y1="9.20" x2="450.38" y2="14.40" stroke="#000" stroke-width="1.0" />
<line x1="456.29" y1="393.30" x2="456.29" y2="388.10" stroke="#000" stroke-width="1.0" />
<line x1="456.29" y1="9.20" x2="456.29" y2="14.40" stroke="#000" stroke-width="1.0" />
<line x1="462.20" y1="393.30" x2="462.20" y2="382.80" stroke="#000" stroke-width="1.0" />
<line x1="462.20" y1="9.20" x2="462.20" y2="19.70" stroke="#000" stroke-width="1.0" />
<line x1="468.11" y1="393.30" x2="468.11" y2="388.10" stroke="#000" stroke-width="1.0" />
<line x1="468.11" y1="9.20" x2="468.11" y2="14.40" stroke="#000" stroke-width="1.0" />
<line x1="474.02" y1="393.30" x2="474.02" y2="388.10" stroke="#000" stroke-width="1.0" />
<line x1="474.02" y1="9.20" x2="474.02" y2="14.40" stroke="#000" stroke-width="1.0" />
<line x1="479.93" y1="393.30" x2="479.93" y2="388.10" stroke="#000" stroke-width="1.0" />
<line x1="479.93" y1="9.20" x2="479.93" y2="14.40" stroke="#000" stroke-width="1.0" />
<line x1="485.84" y1="393.30" x2="485.84" y2="388.10" stroke="#000" stroke-width="1.0" />
<line x1="485.84" y1="9.20" x2="485.84" y2="14.40" stroke="#000" stroke-width="1.0" />
<line x1="491.75" y1="393.30" x2="491.75" y2="388.10" stroke="#000" stroke-width="1.0" />
<line x1="491.75" y1="9.20" x2="491.75" y2="14.40" stroke="#000" stroke-width="1.0" />
<line x1="497.66" y1="393.30" x2="497.66" y2="388.10" stroke="#000" stroke-width="1.0" />
<line x1="497.66" y1="9.20" x2="497.66" y2="14.40" stroke="#000" stroke-width="1.0" />
<line x1="503.57" y1="393.30" x2="503.57" y2="388.10" stroke="#000" stroke-width="1.0" />
<line x1="503.57" y1="9.20" x2="503.57" y2="14.40" stroke="#000" stroke-width="1.0" />
<line x1="509.48" y1="393.30" x2="509.48" y2="388.10" stroke="#000" stroke-width="1.0" />
<line x1="509.48" y1="9.20" x2="509.48" y2="14.40" stroke="#000" stroke-width="1.0" />
<line x1="515.39" y1="393.30" x2="515.39" y2="388.10" stroke="#000" stroke-width="1.0" />
<line x1="515.39" y1="9.20" x2="515.39" y2="14.40" stroke="#000" stroke-width="1.0" />
<line x1="521.30" y1="393.30" x2="521.30" y2="382.80" stroke="#000" stroke-width="1.0" />
<line x1="521.30" y1="9.20" x2="521.30" y2="19.70" stroke="#000" stroke-width="1.0" />
<line x1="527.21" y1="393.30" x2="527.21" y2="388.10" stroke="#000" stroke-width="1.0" />
<line x1="527.21" y1="9.20" x2="527.21" y2="14.40" stroke="#000" stroke-width="1.0" />
<line x1="533.12" y1="393.30" x2="533.12" y2="388.10" stroke="#000" stroke-width="1.0" />
<line x1="533.12" y1="9.20" x2="533.12" y2="14.40" stroke="#000" stroke-width="1.0" />
<line x1="539.03" y1="393.30" x2="539.03" y2="388.10" stroke="#000" stroke-width="1.0" />
<line x1="539.03" y1="9.20" x2="539.03" y2="14.40" stroke="#000" stroke-width="1.0" />
<line x1="544.94" y1="393.30" x2="544.94" y2="388.10" stroke="#000" stroke-width="1.0" />
<line x1="544.94" y1="9.20" x2="544.94" y2="14.40" stroke="#000" stroke-width="1.0" />
<line x1="550.85" y1="393.30" x2="550.85" y2="388.10" stroke="#000" stroke-width="1.0" />
<line x1="550.85" y1="9.20" x2="550.85" y2="14.40" stroke="#000" stroke-width="1.0" />
<line x1="556.76" y1="393.30" x2="556.76" y2="388.10" stroke="#000" stroke-width="1.0" />
<line x1="556.76" y1="9.20" x2="556.76" y2="14.40" stroke="#000" stroke-width="1.0" />
<line x1="562.67" y1="393.30" x2="562.67" y2="388.10" stroke="#000" stroke-width="1.0" />
<line x1="562.67" y1="9.20" x2="562.67" y2="14.40" stroke="#000" stroke-width="1.0" />
<line x1="568.58" y1="393.30" x2="568.58" y2="388.10" stroke="#000" stroke-width="1.0" />
<line x1="568.58" y1="9.20" x2="568.58" y2="14.40" stroke="#000" stroke-width="1.0" />
<line x1="574.49" y1="393.30" x2="574.49" y2="388.10" stroke="#000" stroke-width="1.0" />
<line x1="574.49" y1="9.20" x2="574.49" y2="14.40" stroke="#000" stroke-width="1.0" />
<line x1="332.60" y1="12.69" x2="337.80" y2="12.69" stroke="#000" stroke-width="1.0" />
<line x1="580.30" y1="12.69" x2="575.10" y2="12.69" stroke="#000" stroke-width="1.0" />
<line x1="332.60" y1="16.18" x2="337.80" y2="16.18" stroke="#000" stroke-width="1.0" />
<line x1="580.30" y1="16.18" x2="575.10" y2="16.18" stroke="#000" stroke-width="1.0" />
<line x1="332.60" y1="19.68" x2="337.80" y2="19.68" stroke="#000" stroke-width="1.0" />
<line x1="580.30" y1="19.68" x2="575.10" y2="19.68" stroke="#000" stroke-width="1.0" />
<line x1="332.60" y1="23.17" x2="337.80" y2="23.17" stroke="#000" stroke-width="1.0" />
<line x1="580.30" y1="23.17" x2="575.10" y2="23.17" stroke="#000" stroke-width="1.0" />
<line x1="332.60" y1="26.66" x2="337.80" y2="26.66" stroke="#000" stroke-width="1.0" />
<line x1="580.30" y1="26.66" x2="575.10" y2="26.66" stroke="#000" stroke-width="1.0" />
<line x1="332.60" y1="30.15" x2="337.80" y2="30.15" stroke="#000" stroke-width="1.0" />
<line x1="580.30" y1="30.15" x2="575.10" y2="30.15" stroke="#000" stroke-width="1.0" />
<line x1="332.60" y1="33.64" x2="337.80" y2="33.64" stroke="#000" stroke-width="1.0" />
<line x1="580.30" y1="33.64" x2="575.10" y2="33.64" stroke="#000" stroke-width="1.0" />
<line x1="332.60" y1="37.14" x2="337.80" y2="37.14" stroke="#000" stroke-width="1.0" />
<line x1="580.30" y1="37.14" x2="575.10" y2="37.14" stroke="#000" stroke-width="1.0" />
<line x1="332.60" y1="40.63" x2="337.80" y2="40.63" stroke="#000" stroke-width="1.0" />
<line x1="580.30" y1="40.63" x2="575.10" y2="40.63" stroke="#000" stroke-width="1.0" />
<line x1="332.60" y1="44.12" x2="343.10" y2="44.12" stroke="#000" stroke-width="1.0" />
<line x1="580.30" y1="44.12" x2="569.80" y2="44.12" stroke="#000" stroke-width="1.0" />
<line x1="332.60" y1="47.61" x2="337.80" y2="47.61" stroke="#000" stroke-width="1.0" />
<line x1="580.30" y1="47.61" x2="575.10" y2="47.61" stroke="#000" stroke-width="1.0" />
<line x1="332.60" y1="51.10" x2="337.80" y2="51.10" stroke="#000" stroke-width="1.0" />
<line x1="580.30" y1="51.10" x2="575.10" y2="51.10" stroke="#000" stroke-width="1.0" />
<line x1="332.60" y1="54.60" x2="337.80" y2="54.60" stroke="#000" stroke-width="1.0" />
<line x1="580.30" y1="54.60" x2="575.10" y2="54.60" stroke="#000" stroke-width="1.0" />
<line x1="332.60" y1="58.09" x2="337.80" y2="58.09" stroke="#000" stroke-width="1.0" />
<line x1="580.30" y1="58.09" x2="575.10" y2="58.09" stroke="#000" stroke-width="1.0" />
<line x1="332.60" y1="61.58" x2="337.80" y2="61.58" stroke="#000" stroke-width="1.0" />
<line x1="580.30" y1="61.58" x2="575.10" y2="61.58" stroke="#000" stroke-width="1.0" />
<line x1="332.60" y1="65.07" x2="337.80" y2="65.07" stroke="#000" stroke-width="1.0" />
<line x1="580.30" y1="65.07" x2="575.10" y2="65.07" stroke="#000" stroke-width="1.0" />
<line x1="332.60" y1="68.56" x2="337.80" y2="68.56" stroke="#000" stroke-width="1.0" />
<line x1="580.30" y1="68.56" x2="575.10" y2="68.56" stroke="#000" stroke-width="1.0" />
<line x1="332.60" y1="72.06" x2="337.80" y2="72.06" stroke="#000" stroke-width="1.0" />
<line x1="580.30" y1="72.06" x2="575.10" y2="72.06" stroke="#000" stroke-width="1.0" />
<line x1="332.60" y1="75.55" x2="337.80" y2="75.55" stroke="#000" stroke-width="1.0" />
<line x1="580.30" y1="75.55" x2="575.10" y2="75.55" stroke="#000" stroke-width="1.0" />
<line x1="332.60" y1="79.04" x2="343.10" y2="79.04" stroke="#000" stroke-width="1.0" />
<line x1="580.30" y1="79.04" x2="569.80" y2="79.04" stroke="#000" stroke-width="1.0" />
<line x1="332.60" y1="82.53" x2="337.80" y2="82.53" stroke="#000" stroke-width="1.0" />
<line x1="580.30" y1="82.53" x2="575.10" y2="82.53" stroke="#000" stroke-width="1.0" />
<line x1="332.60" y1="86.02" x2="337.80" y2="86.02" stroke="#000" stroke-width="1.0" />
<line x1="580.30" y1="86.02" x2="575.10" y2="86.02" stroke="#000" stroke-width="1.0" />
<line x1="332.60" y1="89.52" x2="337.80" y2="89.52" stroke="#000" stroke-width="1.0" />
<line x1="580.30" y1="89.52" x2="575.10" y2="89.52" stroke="#000" stroke-width="1.0" />
<line x1="332.60" y1="93.01" x2="337.80" y2="93.01" stroke="#000" stroke-width="1.0" />
<line x1="580.30" y1="93.01" x2="575.10" y2="93.01" stroke="#000" stroke-width="1.0" />
<line x1="332.60" y1="96.50" x2="337.80" y2="96.50" stroke="#000" stroke-width="1.0" />
<line x1="580.30" y1="96.50" x2="575.10" y2="96.50" stroke="#000" stroke-width="1.0" />
<line x1="332.60" y1="99.99" x2="337.80" y2="99.99" stroke="#000" stroke-width="1.0" />
<line x1="580.30" y1="99.99" x2="575.10" y2="99.99" stroke="#000" stroke-width="1.0" />
<line x1="332.60" y1="103.48" x2="337.80" y2="103.48" stroke="#000" stroke-width="1.0" />
<line x1="580.30" y1="103.48" x2="575.10" y2="103.48" stroke="#000" stroke-width="1.0" />
<line x1="332.60" y1="106.98" x2="337.80" y2="106.98" stroke="#000" stroke-width="1.0" />
<line x1="580.30" y1="106.98" x2="575.10" y2="106.98" stroke="#000" stroke-width="1.0" />
<line x1="332.60" y1="110.47" x2="337.80" y2="110.47" stroke="#000" stroke-width="1.0" />
<line x1="580.30" y1="110.47" x2="575.10" y2="110.47" stroke="#000" stroke-width="1.0" />
<line x1="332.60" y1="113.96" x2="343.10" y2="113.96" stroke="#000" stroke-width="1.0" />
<line x1="580.30" y1="113.96" x2="569.80" y2="113.96" stroke="#000" stroke-width="1.0" />
<line x1="332.60" y1="117.45" x2="337.80" y2="117.45" stroke="#000" stroke-width="1.0" />
<line x1="580.30" y1="117.45" x2="575.10" y2="117.45" stroke="#000" stroke-width="1.0" />
<line x1="332.60" y1="120.94" x2="337.80" y2="120.94" stroke="#000" stroke-width="1.0" />
<line x1="580.30" y1="120.94" x2="575.10" y2="120.94" stroke="#000" stroke-width="1.0" />
<line x1="332.60" y1="124.44" x2="337.80" y2="124.44" stroke="#000" stroke-width="1.0" />
<line x1="580.30" y1="124.44" x2="575.10" y2="124.44" stroke="#000" stroke-width="1.0" />
<line x1="332.60" y1="127.93" x2="337.80" y2="127.93" stroke="#000" stroke-width="1.0" />
<line x1="580.30" y1="127.93" x2="575.10" y2="127.93" stroke="#000" stroke-width="1.0" />
<line x1="332.60" y1="131.42" x2="337.80" y2="131.42" stroke="#000" stroke-width="1.0" />
<line x1="580.30" y1="131.42" x2="575.10" y2="131.42" stroke="#000" stroke-width="1.0" />
<line x1="332.60" y1="134.91" x2="337.80" y2="134.91" stroke="#000" stroke-width="1.0" />
<line x1="580.30" y1="134.91" x2="575.10" y2="134.91" stroke="#000" stroke-width="1.0" />
<line x1="332.60" y1="138.40" x2="337.80" y2="138.40" stroke="#000" stroke-width="1.0" />
<line x1="580.30" y1="138.40" x2="575.10" y2="138.40" stroke="#000" stroke-width="1.0" />
<line x1="332.60" y1="141.90" x2="337.80" y2="141.90" stroke="#000" stroke-width="1.0" />
<line x1="580.30" y1="141.90" x2="575.10" y2="141.90" stroke="#000" stroke-width="1.0" />
<line x1="332.60" y1="145.39" x2="337.80" y2="145.39" stroke="#000" stroke-width="1.0" />
<line x1="580.30" y1="145.39" x2="575.10" y2="145.39" stroke="#000" stroke-width="1.0" />
<line x1="332.60" y1="148.88" x2="343.10" y2="148.88" stroke="#000" stroke-width="1.0" />
<line x1="580.30" y1="148.88" x2="569.80" y2="148.88" stroke="#000" stroke-width="1.0" />
<line x1="332.60" y1="152.37" x2="337.80" y2="152.37" stroke="#000" stroke-width="1.0" />
<line x1="580.30" y1="152.37" x2="575.10" y2="152.37" stroke="#000" stroke-width="1.0" />
<line x1="332.60" y1="155.86" x2="337.80" y2="155.86" stroke="#000" stroke-width="1.0" />
<line x1="580.30" y1="155.86" x2="575.10" y2="155.86" stroke="#000" stroke-width="1.0" />
<line x1="332.60" y1="159.36" x2="337.80" y2="159.36" stroke="#000" stroke-width="1.0" />
<line x1="580.30" y1="159.36" x2="575.10" y2="159.36" stroke="#000" stroke-width="1.0" />
<line x1="332.60" y1="162.85" x2="337.80" y2="162.85" stroke="#000" stroke-width="1.0" />
<line x1="580.30" y1="162.85" x2="575.10" y2="162.85" stroke="#000" stroke-width="1.0" />
<line x1="332.60" y1="166.34" x2="337.80" y2="166.34" stroke="#000" stroke-width="1.0" />
<line x1="580.30" y1="166.34" x2="575.10" y2="166.34" stroke="#000" stroke-width="1.0" />
<line x1="332.60" y1="169.83" x2="337.80" y2="169.83" stroke="#000" stroke-width="1.0" />
<line x1="580.30" y1="169.83" x2="575.10" y2="169.83" stroke="#000" stroke-width="1.0" />
<line x1="332.60" y1="173.32" x2="337.80" y2="173.32" stroke="#000" stroke-width="1.0" />
<line x1="580.30" y1="173.32" x2="575.10" y2="173.32" stroke="#000" stroke-width="1.0" />
<line x1="332.60" y1="176.82" x2="337.80" y2="176.82" stroke="#000" stroke-width="1.0" />
<line x1="580.30" y1="176.82" x2="575.10" y2="176.82" stroke="#000" stroke-width="1.0" />
<line x1="332.60" y1="180.31" x2="337.80" y2="180.31" stroke="#000" stroke-width="1.0" />
<line x1="580.30" y1="180.31" x2="575.10" y2="180.31" stroke="#000" stroke-width="1.0" />
<line x1="332.60" y1="183.80" x2="343.10" y2="183.80" stroke="#000" stroke-width="1.0" />
<line x1="580.30" y1="183.80" x2="569.80" y2="183.80" stroke="#000" stroke-width="1.0" />
<line x1="332.60" y1="187.29" x2="337.80" y2="187.29" stroke="#000" stroke-width="1.0" />
<line x1="580.30" y1="187.29" x2="575.10" y2="187.29" stroke="#000" stroke-width="1.0" />
<line x1="332.60" y1="190.78" x2="337.80" y2="190.78" stroke="#000" stroke-width="1.0" />
<line x1="580.30" y1="190.78" x2="575.10" y2="190.78" stroke="#000" stroke-width="1.0" />
<line x1="332.60" y1="194.28" x2="337.80" y2="194.28" stroke="#000" stroke-width="1.0" />
<line x1="580.30" y1="194.28" x2="575.10" y2="194.28" stroke="#000" stroke-width="1.0" />
<line x1="332.60" y1="197.77" x2="337.80" y2="197.77" stroke="#000" stroke-width="1.0" />
<line x1="580.30" y1="197.77" x2="575.10" y2="197.77" stroke="#000" stroke-width="1.0" />
<line x1="332.60" y1="201.26" x2="337.80" y2="201.26" stroke="#000" stroke-width="1.0" />
<line x1="580.30" y1="201.26" x2="575.10" y2="201.26" stroke="#000" stroke-width="1.0" />
<line x1="332.60" y1="204.75" x2="337.80" y2="204.75" stroke="#000" stroke-width="1.0" />
<line x1="580.30" y1="204.75" x2="575.10" y2="204.75" stroke="#000" stroke-width="1.0" />
<line x1="332.60" y1="208.24" x2="337.80" y2="208.24" stroke="#000" stroke-width="1.0" />
<line x1="580.30" y1="208.24" x2="575.10" y2="208.24" stroke="#000" stroke-width="1.0" />
<line x1="332.60" y1="211.74" x2="337.80" y2="211.74" stroke="#000" stroke-width="1.0" />
<line x1="580.30" y1="211.74" x2="575.10" y2="211.74" stroke="#000" stroke-width="1.0" />
<line x1="332.60" y1="215.23" x2="337.80" y2="215.23" stroke="#000" stroke-width="1.0" />
<line x1="580.30" y1="215.23" x2="575.10" y2="215.23" stroke="#000" stroke-width="1.0" />
<line x1="332.60" y1="218.72" x2="343.10" y2="218.72" stroke="#000" stroke-width="1.0" />
<line x1="580.30" y1="218.72" x2="569.80" y2="218.72" stroke="#000" stroke-width="1.0" />
<line x1="332.60" y1="222.21" x2="337.80" y2="222.21" stroke="#000" stroke-width="1.0" />
<line x1="580.30" y1="222.21" x2="575.10" y2="222.21" stroke="#000" stroke-width="1.0" />
<line x1="332.60" y1="225.70" x2="337.80" y2="225.70" stroke="#000" stroke-width="1.0" />
<line x1="580.30" y1="225.70" x2="575.10" y2="225.70" stroke="#000" stroke-width="1.0" />
<line x1="332.60" y1="229.20" x2="337.80" y2="229.20" stroke="#000" stroke-width="1.0" />
<line x1="580.30" y1="229.20" x2="575.10" y2="229.20" stroke="#000" stroke-width="1.0" />
<line x1="332.60" y1="232.69" x2="337.80" y2="232.69" stroke="#000" stroke-width="1.0" />
<line x1="580.30" y1="232.69" x2="575.10" y2="232.69" stroke="#000" stroke-width="1.0" />
<line x1="332.60" y1="236.18" x2="337.80" y2="236.18" stroke="#000" stroke-width="1.0" />
<line x1="580.30" y1="236.18" x2="575.10" y2="236.18" stroke="#000" stroke-width="1.0" />
<line x1="332.60" y1="239.67" x2="337.80" y2="239.67" stroke="#000" stroke-width="1.0" />
<line x1="580.30" y1="239.67" x2="575.10" y2="239.67" stroke="#000" stroke-width="1.0" />
<line x1="332.60" y1="243.16" x2="337.80" y2="243.16" stroke="#000" stroke-width="1.0" />
<line x1="580.30" y1="243.16" x2="575.10" y2="243.16" stroke="#000" stroke-width="1.0" />
<line x1="332.60" y1="246.66" x2="337.80" y2="246.66" stroke="#000" stroke-width="1.0" />
<line x1="580.30" y1="246.66" x2="575.10" y2="246.66" stroke="#000" stroke-width="1.0" />
<line x1="332.60" y1="250.15" x2="337.80" y2="250.15" stroke="#000" stroke-width="1.0" />
<line x1="580.30" y1="250.15" x2="575.10" y2="250.15" stroke="#000" stroke-width="1.0" />
<line x1="332.60" y1="253.64" x2="343.10" y2="253.64" stroke="#000" stroke-width="1.0" />
<line x1="580.30" y1="253.64" x2="569.80" y2="253.64" stroke="#000" stroke-width="1.0" />
<line x1="332.60" y1="257.13" x2="337.80" y2="257.13" stroke="#000" stroke-width="1.0" />
<line x1="580.30" y1="257.13" x2="575.10" y2="257.13" stroke="#000" stroke-width="1.0" />
<line x1="332.60" y1="260.62" x2="337.80" y2="260.62" stroke="#000" stroke-width="1.0" />
<line x1="580.30" y1="260.62" x2="575.10" y2="260.62" stroke="#000" stroke-width="1.0" />
<line x1="332.60" y1="264.12" x2="337.80" y2="264.12" stroke="#000" stroke-width="1.0" />
<line x1="580.30" y1="264.12" x2="575.10" y2="264.12" stroke="#000" stroke-width="1.0" />
<line x1="332.60" y1="267.61" x2="337.80" y2="267.61" stroke="#000" stroke-width="1.0" />
<line x1="580.30" y1="267.61" x2="575.10" y2="267.61" stroke="#000" stroke-width="1.0" />
<line x1="332.60" y1="271.10" x2="337.80" y2="271.10" stroke="#000" stroke-width="1.0" />
<line x1="580.30" y1="271.10" x2="575.10" y2="271.10" stroke="#000" stroke-width="1.0" />
<line x1="332.60" y1="274.59" x2="337.80" y2="274.59" stroke="#000" stroke-width="1.0" />
<line x1="580.30" y1="274.59" x2="575.10" y2="274.59" stroke="#000" stroke-width="1.0" />
<line x1="332.60" y1="278.08" x2="337.80" y2="278.08" stroke="#000" stroke-width="1.0" />
<line x1="580.30" y1="278.08" x2="575.10" y2="278.08" stroke="#000" stroke-width="1.0" />
<line x1="332.60" y1="281.58" x2="337.80" y2="281.58" stroke="#000" stroke-width="1.0" />
<line x1="580.30" y1="281.58" x2="575.10" y2="281.58" stroke="#000" stroke-width="1.0" />
<line x1="332.60" y1="285.07" x2="337.80" y2="285.07" stroke="#000" stroke-width="1.0" />
<line x1="580.30" y1="285.07" x2="575.10" y2="285.07" stroke="#000" stroke-width="1.0" />
<line x1="332.60" y1="288.56" x2="343.10" y2="288.56" stroke="#000" stroke-width="1.0" />
<line x1="580.30" y1="288.56" x2="569.80" y2="288.56" stroke="#000" stroke-width="1.0" />
<line x1="332.60" y1="292.05" x2="337.80" y2="292.05" stroke="#000" stroke-width="1.0" />
<line x1="580.30" y1="292.05" x2="575.10" y2="292.05" stroke="#000" stroke-width="1.0" />
<line x1="332.60" y1="295.54" x2="337.80" y2="295.54" stroke="#000" stroke-width="1.0" />
<line x1="580.30" y1="295.54" x2="575.10" y2="295.54" stroke="#000" stroke-width="1.0" />
<line x1="332.60" y1="299.04" x2="337.80" y2="299.04" stroke="#000" stroke-width="1.0" />
<line x1="580.30" y1="299.04" x2="575.10" y2="299.04" stroke="#000" stroke-width="1.0" />
<line x1="332.60" y1="302.53" x2="337.80" y2="302.53" stroke="#000" stroke-width="1.0" />
<line x1="580.30" y1="302.53" x2="575.10" y2="302.53" stroke="#000" stroke-width="1.0" />
<line x1="332.60" y1="306.02" x2="337.80" y2="306.02" stroke="#000" stroke-width="1.0" />
<line x1="580.30" y1="306.02" x2="575.10" y2="306.02" stroke="#000" stroke-width="1.0" />
<line x1="332.60" y1="309.51" x2="337.80" y2="309.51" stroke="#000" stroke-width="1.0" />
<line x1="580.30" y1="309.51" x2="575.10" y2="309.51" stroke="#000" stroke-width="1.0" />
<line x1="332.60" y1="313.00" x2="337.80" y2="313.00" stroke="#000" stroke-width="1.0" />
<line x1="580.30" y1="313.00" x2="575.10" y2="313.00" stroke="#000" stroke-width="1.0" />
<line x1="332.60" y1="316.50" x2="337.80" y2="316.50" stroke="#000" stroke-width="1.0" />
<line x1="580.30" y1="316.50" x2="575.10" y2="316.50" stroke="#000" stroke-width="1.0" />
<line x1="332.60" y1="319.99" x2="337.80" y2="319.99" stroke="#000" stroke-width="1.0" />
<line x1="580.30" y1="319.99" x2="575.10" y2="319.99" stroke="#000" stroke-width="1.0" />
<line x1="332.60" y1="323.48" x2="343.10" y2="323.48" stroke="#000" stroke-width="1.0" />
<line x1="580.30" y1="323.48" x2="569.80" y2="323.48" stroke="#000" stroke-width="1.0" />
<line x1="332.60" y1="326.97" x2="337.80" y2="326.97" stroke="#000" stroke-width="1.0" />
<line x1="580.30" y1="326.97" x2="575.10" y2="326.97" stroke="#000" stroke-width="1.0" />
<line x1="332.60" y1="330.46" x2="337.80" y2="330.46" stroke="#000" stroke-width="1.0" />
<line x1="580.30" y1="330.46" x2="575.10" y2="330.46" stroke="#000" stroke-width="1.0" />
<line x1="332.60" y1="333.96" x2="337.80" y2="333.96" stroke="#000" stroke-width="1.0" />
<line x1="580.30" y1="333.96" x2="575.10" y2="333.96" stroke="#000" stroke-width="1.0" />
<line x1="332.60" y1="337.45" x2="337.80" y2="337.45" stroke="#000" stroke-width="1.0" />
<line x1="580.30" y1="337.45" x2="575.10" y2="337.45" stroke="#000" stroke-width="1.0" />
<line x1="332.60" y1="340.94" x2="337.80" y2="340.94" stroke="#000" stroke-width="1.0" />
<line x1="580.30" y1="340.94" x2="575.10" y2="340.94" stroke="#000" stroke-width="1.0" />
<line x1="332.60" y1="344.43" x2="337.80" y2="344.43" stroke="#000" stroke-width="1.0" />
<line x1="580.30" y1="344.43" x2="575.10" y2="344.43" stroke="#000" stroke-width="1.0" />
<line x1="332.60" y1="347.92" x2="337.80" y2="347.92" stroke="#000" stroke-width="1.0" />
<line x1="580.30" y1="347.92" x2="575.10" y2="347.92" stroke="#000" stroke-width="1.0" />
<line x1="332.60" y1="351.42" x2="337.80" y2="351.42" stroke="#000" stroke-width="1.0" />
<line x1="580.30" y1="351.42" x2="575.10" y2="351.42" stroke="#000" stroke-width="1.0" />
<line x1="332.60" y1="354.91" x2="337.80" y2="354.91" stroke="#000" stroke-width="1.0" />
<line x1="580.30" y1="354.91" x2="575.10" y2="354.91" stroke="#000" stroke-width="1.0" />
<line x1="332.60" y1="358.40" x2="343.10" y2="358.40" stroke="#000" stroke-width="1.0" />
<line x1="580.30" y1="358.40" x2="569.80" y2="358.40" stroke="#000" stroke-width="1.0" />
<line x1="332.60" y1="361.89" x2="337.80" y2="361.89" stroke="#000" stroke-width="1.0" />
<line x1="580.30" y1="361.89" x2="575.10" y2="361.89" stroke="#000" stroke-width="1.0" />
<line x1="332.60" y1="365.38" x2="337.80" y2="365.38" stroke="#000" stroke-width="1.0" />
<line x1="580.30" y1="365.38" x2="575.10" y2="365.38" stroke="#000" stroke-width="1.0" />
<line x1="332.60" y1="368.88" x2="337.80" y2="368.88" stroke="#000" stroke-width="1.0" />
<line x1="580.30" y1="368.88" x2="575.10" y2="368.88" stroke="#000" stroke-width="1.0" />
<line x1="332.60" y1="372.37" x2="337.80" y2="372.37" stroke="#000" stroke-width="1.0" />
<line x1="580.30" y1="372.37" x2="575.10" y2="372.37" stroke="#000" stroke-width="1.0" />
<line x1="332.60" y1="375.86" x2="337.80" y2="375.86" stroke="#000" stroke-width="1.0" />
<line x1="580.30" y1="375.86" x2="575.10" y2="375.86" stroke="#000" stroke-width="1.0" />
<line x1="332.60" y1="379.35" x2="337.80" y2="379.35" stroke="#000" stroke-width="1.0" />
<line x1="580.30" y1="379.35" x2="575.10" y2="379.35" stroke="#000" stroke-width="1.0" />
<line x1="332.60" y1="382.84" x2="337.80" y2="382.84" stroke="#000" stroke-width="1.0" />
<line x1="580.30" y1="382.84" x2="575.10" y2="382.84" stroke="#000" stroke-width="1.0" />
<line x1="332.60" y1="386.34" x2="337.80" y2="386.34" stroke="#000" stroke-width="1.0" />
<line x1="580.30" y1="386.34" x2="575.10" y2="386.34" stroke="#000" stroke-width="1.0" />
<line x1="332.60" y1="389.83" x2="337.80" y2="389.83" stroke="#000" stroke-width="1.0" />
<line x1="580.30" y1="389.83" x2="575.10" y2="389.83" stroke="#000" stroke-width="1.0" />
<polyline points="34.30,384.30 51.50,364.40 52.80,357.00 55.00,346.70 56.30,339.00 57.40,331.50 58.80,325.30 60.20,321.80 58.90,319.70 60.20,317.00 61.30,312.10 63.00,308.00 64.40,303.80 66.40,300.80 69.20,300.00 72.00,300.80 74.70,303.10 78.20,306.60 81.60,310.70 86.50,315.60 90.60,319.00 93.40,320.40 97.50,319.30" fill="none" stroke="#000" stroke-width="1.0" stroke-linejoin="round"/>
<polyline points="34.30,384.30 37.00,387.30 40.00,388.30 43.50,388.50 44.30,390.00 43.80,392.50" fill="none" stroke="#000" stroke-width="1.0" stroke-linejoin="round"/>
<polyline points="80.50,309.40 282.50,23.50" fill="none" stroke="#000" stroke-width="1.0" stroke-linejoin="round"/>
<polyline points="95.50,305.20 163.30,271.60" fill="none" stroke="#000" stroke-width="1.0" stroke-linejoin="round" stroke-dasharray="4,2.6"/>
<polyline points="337.60,9.20 337.80,40.00 338.30,70.00 338.60,85.00 340.20,99.20 353.00,70.40 358.20,79.50 365.00,89.10 369.60,98.50 370.50,103.40 372.40,124.60 373.80,140.00 377.50,162.10 378.40,170.40 379.40,183.30 382.10,188.80 384.00,190.70 386.70,202.70 388.60,211.90 390.40,220.00 390.60,228.40 391.00,231.90 388.70,248.00 385.90,263.70 384.80,268.30 383.50,278.00 382.10,294.60 381.10,307.00 380.70,320.00 379.40,345.00 378.60,370.00 378.40,392.70" fill="none" stroke="#000" stroke-width="1.0" stroke-linejoin="round"/>
<polyline points="357.50,77.50 415.80,167.50" fill="none" stroke="#000" stroke-width="1.0" stroke-linejoin="round" stroke-dasharray="4,2.6"/>
<polyline points="379.40,170.40 440.50,266.00" fill="none" stroke="#000" stroke-width="1.0" stroke-linejoin="round" stroke-dasharray="4,2.6"/>
<polyline points="391.30,232.50 446.00,316.00" fill="none" stroke="#000" stroke-width="1.0" stroke-linejoin="round" stroke-dasharray="4,2.6"/>
<polyline points="385.90,268.50 447.80,363.40" fill="none" stroke="#000" stroke-width="1.0" stroke-linejoin="round" stroke-dasharray="4,2.6"/>
<polyline points="385.10,313.80 434.50,392.70" fill="none" stroke="#000" stroke-width="1.0" stroke-linejoin="round" stroke-dasharray="4,2.6"/>
<circle cx="278.00" cy="16.20" r="1.8" fill="none" stroke="#000" stroke-width="1.05"/>
<circle cx="264.40" cy="59.20" r="1.8" fill="none" stroke="#000" stroke-width="1.05"/>
<circle cx="251.20" cy="77.50" r="1.8" fill="none" stroke="#000" stroke-width="1.05"/>
<circle cx="225.30" cy="114.70" r="1.8" fill="none" stroke="#000" stroke-width="1.05"/>
<circle cx="202.00" cy="126.70" r="1.8" fill="none" stroke="#000" stroke-width="1.05"/>
<circle cx="205.80" cy="128.30" r="1.8" fill="none" stroke="#000" stroke-width="1.05"/>
<circle cx="212.80" cy="129.70" r="1.8" fill="none" stroke="#000" stroke-width="1.05"/>
<circle cx="193.00" cy="138.00" r="1.8" fill="none" stroke="#000" stroke-width="1.05"/>
<circle cx="202.00" cy="145.00" r="1.8" fill="none" stroke="#000" stroke-width="1.05"/>
<circle cx="173.40" cy="143.50" r="1.8" fill="none" stroke="#000" stroke-width="1.05"/>
<circle cx="174.30" cy="147.20" r="1.8" fill="none" stroke="#000" stroke-width="1.05"/>
<circle cx="180.90" cy="145.90" r="1.8" fill="none" stroke="#000" stroke-width="1.05"/>
<circle cx="188.20" cy="144.70" r="1.8" fill="none" stroke="#000" stroke-width="1.05"/>
<circle cx="191.00" cy="150.60" r="1.8" fill="none" stroke="#000" stroke-width="1.05"/>
<circle cx="165.90" cy="155.90" r="1.8" fill="none" stroke="#000" stroke-width="1.05"/>
<circle cx="175.10" cy="156.70" r="1.8" fill="none" stroke="#000" stroke-width="1.05"/>
<circle cx="186.10" cy="155.60" r="1.8" fill="none" stroke="#000" stroke-width="1.05"/>
<circle cx="193.20" cy="156.10" r="1.8" fill="none" stroke="#000" stroke-width="1.05"/>
<circle cx="172.80" cy="161.70" r="1.8" fill="none" stroke="#000" stroke-width="1.05"/>
<circle cx="177.80" cy="160.50" r="1.8" fill="none" stroke="#000" stroke-width="1.05"/>
<circle cx="187.00" cy="161.30" r="1.8" fill="none" stroke="#000" stroke-width="1.05"/>
<circle cx="187.00" cy="163.00" r="1.8" fill="none" stroke="#000" stroke-width="1.05"/>
<circle cx="192.80" cy="161.00" r="1.8" fill="none" stroke="#000" stroke-width="1.05"/>
<circle cx="160.70" cy="163.60" r="1.8" fill="none" stroke="#000" stroke-width="1.05"/>
<circle cx="150.60" cy="170.90" r="1.8" fill="none" stroke="#000" stroke-width="1.05"/>
<circle cx="162.10" cy="169.70" r="1.8" fill="none" stroke="#000" stroke-width="1.05"/>
<circle cx="165.10" cy="173.20" r="1.8" fill="none" stroke="#000" stroke-width="1.05"/>
<circle cx="172.60" cy="173.60" r="1.8" fill="none" stroke="#000" stroke-width="1.05"/>
<circle cx="159.00" cy="178.60" r="1.8" fill="none" stroke="#000" stroke-width="1.05"/>
<circle cx="154.40" cy="180.60" r="1.8" fill="none" stroke="#000" stroke-width="1.05"/>
<circle cx="157.00" cy="181.70" r="1.8" fill="none" stroke="#000" stroke-width="1.05"/>
<circle cx="172.30" cy="183.20" r="1.8" fill="none" stroke="#000" stroke-width="1.05"/>
<circle cx="175.90" cy="181.70" r="1.8" fill="none" stroke="#000" stroke-width="1.05"/>
<circle cx="170.20" cy="189.50" r="1.8" fill="none" stroke="#000" stroke-width="1.05"/>
<circle cx="174.00" cy="189.00" r="1.8" fill="none" stroke="#000" stroke-width="1.05"/>
<circle cx="129.40" cy="196.70" r="1.8" fill="none" stroke="#000" stroke-width="1.05"/>
<circle cx="139.50" cy="194.40" r="1.8" fill="none" stroke="#000" stroke-width="1.05"/>
<circle cx="144.10" cy="193.20" r="1.8" fill="none" stroke="#000" stroke-width="1.05"/>
<circle cx="141.80" cy="197.20" r="1.8" fill="none" stroke="#000" stroke-width="1.05"/>
<circle cx="135.50" cy="199.50" r="1.8" fill="none" stroke="#000" stroke-width="1.05"/>
<circle cx="141.60" cy="201.50" r="1.8" fill="none" stroke="#000" stroke-width="1.05"/>
<circle cx="143.60" cy="204.70" r="1.8" fill="none" stroke="#000" stroke-width="1.05"/>
<circle cx="143.60" cy="207.90" r="1.8" fill="none" stroke="#000" stroke-width="1.05"/>
<circle cx="128.00" cy="205.90" r="1.8" fill="none" stroke="#000" stroke-width="1.05"/>
<circle cx="126.60" cy="208.40" r="1.8" fill="none" stroke="#000" stroke-width="1.05"/>
<circle cx="129.70" cy="209.00" r="1.8" fill="none" stroke="#000" stroke-width="1.05"/>
<circle cx="132.60" cy="207.90" r="1.8" fill="none" stroke="#000" stroke-width="1.05"/>
<circle cx="134.90" cy="208.70" r="1.8" fill="none" stroke="#000" stroke-width="1.05"/>
<circle cx="120.90" cy="209.80" r="1.8" fill="none" stroke="#000" stroke-width="1.05"/>
<circle cx="141.60" cy="211.70" r="1.8" fill="none" stroke="#000" stroke-width="1.05"/>
<circle cx="137.80" cy="213.00" r="1.8" fill="none" stroke="#000" stroke-width="1.05"/>
<circle cx="125.70" cy="213.00" r="1.8" fill="none" stroke="#000" stroke-width="1.05"/>
<circle cx="128.90" cy="215.90" r="1.8" fill="none" stroke="#000" stroke-width="1.05"/>
<circle cx="140.70" cy="215.90" r="1.8" fill="none" stroke="#000" stroke-width="1.05"/>
<circle cx="147.40" cy="212.80" r="1.8" fill="none" stroke="#000" stroke-width="1.05"/>
<circle cx="149.30" cy="200.60" r="1.8" fill="none" stroke="#000" stroke-width="1.05"/>
<circle cx="133.20" cy="220.20" r="1.8" fill="none" stroke="#000" stroke-width="1.05"/>
<circle cx="134.40" cy="218.80" r="1.8" fill="none" stroke="#000" stroke-width="1.05"/>
<circle cx="136.10" cy="219.70" r="1.8" fill="none" stroke="#000" stroke-width="1.05"/>
<circle cx="139.80" cy="218.80" r="1.8" fill="none" stroke="#000" stroke-width="1.05"/>
<circle cx="117.40" cy="221.10" r="1.8" fill="none" stroke="#000" stroke-width="1.05"/>
<circle cx="107.90" cy="225.10" r="1.8" fill="none" stroke="#000" stroke-width="1.05"/>
<circle cx="122.80" cy="222.80" r="1.8" fill="none" stroke="#000" stroke-width="1.05"/>
<circle cx="125.50" cy="224.30" r="1.8" fill="none" stroke="#000" stroke-width="1.05"/>
<circle cx="122.50" cy="226.60" r="1.8" fill="none" stroke="#000" stroke-width="1.05"/>
<circle cx="118.80" cy="227.40" r="1.8" fill="none" stroke="#000" stroke-width="1.05"/>
<circle cx="117.10" cy="229.70" r="1.8" fill="none" stroke="#000" stroke-width="1.05"/>
<circle cx="114.80" cy="231.70" r="1.8" fill="none" stroke="#000" stroke-width="1.05"/>
<circle cx="115.10" cy="234.40" r="1.8" fill="none" stroke="#000" stroke-width="1.05"/>
<circle cx="118.20" cy="233.80" r="1.8" fill="none" stroke="#000" stroke-width="1.05"/>
<circle cx="122.30" cy="232.00" r="1.8" fill="none" stroke="#000" stroke-width="1.05"/>
<circle cx="140.70" cy="230.10" r="1.8" fill="none" stroke="#000" stroke-width="1.05"/>
<circle cx="136.70" cy="233.20" r="1.8" fill="none" stroke="#000" stroke-width="1.05"/>
<circle cx="113.60" cy="239.30" r="1.8" fill="none" stroke="#000" stroke-width="1.05"/>
<circle cx="119.40" cy="238.20" r="1.8" fill="none" stroke="#000" stroke-width="1.05"/>
<circle cx="127.10" cy="237.80" r="1.8" fill="none" stroke="#000" stroke-width="1.05"/>
<circle cx="129.70" cy="237.00" r="1.8" fill="none" stroke="#000" stroke-width="1.05"/>
<circle cx="116.30" cy="240.90" r="1.8" fill="none" stroke="#000" stroke-width="1.05"/>
<circle cx="120.90" cy="240.10" r="1.8" fill="none" stroke="#000" stroke-width="1.05"/>
<circle cx="110.70" cy="243.80" r="1.8" fill="none" stroke="#000" stroke-width="1.05"/>
<circle cx="114.40" cy="243.80" r="1.8" fill="none" stroke="#000" stroke-width="1.05"/>
<circle cx="110.70" cy="247.30" r="1.8" fill="none" stroke="#000" stroke-width="1.05"/>
<circle cx="109.80" cy="250.70" r="1.8" fill="none" stroke="#000" stroke-width="1.05"/>
<circle cx="132.60" cy="244.70" r="1.8" fill="none" stroke="#000" stroke-width="1.05"/>
<circle cx="115.90" cy="254.80" r="1.8" fill="none" stroke="#000" stroke-width="1.05"/>
<circle cx="120.00" cy="253.00" r="1.8" fill="none" stroke="#000" stroke-width="1.05"/>
<circle cx="130.30" cy="255.90" r="1.8" fill="none" stroke="#000" stroke-width="1.05"/>
<circle cx="168.40" cy="195.90" r="1.8" fill="none" stroke="#000" stroke-width="1.05"/>
<circle cx="170.70" cy="196.50" r="1.8" fill="none" stroke="#000" stroke-width="1.05"/>
<circle cx="165.00" cy="199.10" r="1.8" fill="none" stroke="#000" stroke-width="1.05"/>
<circle cx="155.80" cy="201.10" r="1.8" fill="none" stroke="#000" stroke-width="1.05"/>
<circle cx="155.80" cy="210.90" r="1.8" fill="none" stroke="#000" stroke-width="1.05"/>
<circle cx="150.60" cy="211.70" r="1.8" fill="none" stroke="#000" stroke-width="1.05"/>
<circle cx="155.80" cy="215.00" r="1.8" fill="none" stroke="#000" stroke-width="1.05"/>
<circle cx="157.50" cy="216.10" r="1.8" fill="none" stroke="#000" stroke-width="1.05"/>
<polygon points="255.30,100.38 253.20,104.02 257.40,104.02" fill="none" stroke="#000" stroke-width="1.15"/>
<polygon points="274.40,97.18 272.30,100.82 276.50,100.82" fill="none" stroke="#000" stroke-width="1.15"/>
<polygon points="223.30,120.18 221.20,123.82 225.40,123.82" fill="none" stroke="#000" stroke-width="1.15"/>
<polygon points="214.70,130.18 212.60,133.82 216.80,133.82" fill="none" stroke="#000" stroke-width="1.15"/>
<polygon points="225.30,126.48 223.20,130.12 227.40,130.12" fill="none" stroke="#000" stroke-width="1.15"/>
<polygon points="228.00,127.88 225.90,131.52 230.10,131.52" fill="none" stroke="#000" stroke-width="1.15"/>
<polygon points="240.50,125.08 238.40,128.72 242.60,128.72" fill="none" stroke="#000" stroke-width="1.15"/>
<polygon points="242.50,135.18 240.40,138.82 244.60,138.82" fill="none" stroke="#000" stroke-width="1.15"/>
<polygon points="207.00,140.68 204.90,144.32 209.10,144.32" fill="none" stroke="#000" stroke-width="1.15"/>
<polygon points="211.30,138.98 209.20,142.62 213.40,142.62" fill="none" stroke="#000" stroke-width="1.15"/>
<polygon points="218.00,147.88 215.90,151.52 220.10,151.52" fill="none" stroke="#000" stroke-width="1.15"/>
<polygon points="228.00,147.88 225.90,151.52 230.10,151.52" fill="none" stroke="#000" stroke-width="1.15"/>
<polygon points="230.30,148.48 228.20,152.12 232.40,152.12" fill="none" stroke="#000" stroke-width="1.15"/>
<polygon points="201.30,151.18 199.20,154.82 203.40,154.82" fill="none" stroke="#000" stroke-width="1.15"/>
<polygon points="219.50,155.68 217.40,159.32 221.60,159.32" fill="none" stroke="#000" stroke-width="1.15"/>
<polygon points="197.00,155.38 194.90,159.02 199.10,159.02" fill="none" stroke="#000" stroke-width="1.15"/>
<polygon points="197.50,161.48 195.40,165.12 199.60,165.12" fill="none" stroke="#000" stroke-width="1.15"/>
<polygon points="205.80,158.98 203.70,162.62 207.90,162.62" fill="#000" stroke="#000" stroke-width="1.15"/>
<polygon points="207.50,160.18 205.40,163.82 209.60,163.82" fill="none" stroke="#000" stroke-width="1.15"/>
<polygon points="214.20,160.68 212.10,164.32 216.30,164.32" fill="none" stroke="#000" stroke-width="1.15"/>
<polygon points="210.00,163.18 207.90,166.82 212.10,166.82" fill="none" stroke="#000" stroke-width="1.15"/>
<polygon points="240.80,160.68 238.70,164.32 242.90,164.32" fill="none" stroke="#000" stroke-width="1.15"/>
<polygon points="209.20,168.48 207.10,172.12 211.30,172.12" fill="none" stroke="#000" stroke-width="1.15"/>
<polygon points="205.30,174.48 203.20,178.12 207.40,178.12" fill="none" stroke="#000" stroke-width="1.15"/>
<polygon points="198.00,181.18 195.90,184.82 200.10,184.82" fill="none" stroke="#000" stroke-width="1.15"/>
<polygon points="194.70,187.68 192.60,191.32 196.80,191.32" fill="none" stroke="#000" stroke-width="1.15"/>
<polygon points="206.20,186.88 204.10,190.52 208.30,190.52" fill="none" stroke="#000" stroke-width="1.15"/>
<polygon points="195.50,206.48 193.40,210.12 197.60,210.12" fill="none" stroke="#000" stroke-width="1.15"/>
<polygon points="186.70,182.88 184.60,186.52 188.80,186.52" fill="none" stroke="#000" stroke-width="1.15"/>
<polygon points="189.30,183.68 187.20,187.32 191.40,187.32" fill="none" stroke="#000" stroke-width="1.15"/>
<polygon points="182.50,194.68 180.40,198.32 184.60,198.32" fill="none" stroke="#000" stroke-width="1.15"/>
<polygon points="187.40,196.08 185.30,199.72 189.50,199.72" fill="none" stroke="#000" stroke-width="1.15"/>
<polygon points="181.70,199.88 179.60,203.52 183.80,203.52" fill="#000" stroke="#000" stroke-width="1.15"/>
<polygon points="174.20,202.98 172.10,206.62 176.30,206.62" fill="none" stroke="#000" stroke-width="1.15"/>
<polygon points="170.70,205.98 168.60,209.62 172.80,209.62" fill="none" stroke="#000" stroke-width="1.15"/>
<polygon points="177.60,204.88 175.50,208.52 179.70,208.52" fill="none" stroke="#000" stroke-width="1.15"/>
<polygon points="180.00,204.48 177.90,208.12 182.10,208.12" fill="none" stroke="#000" stroke-width="1.15"/>
<polygon points="161.50,210.28 159.40,213.92 163.60,213.92" fill="none" stroke="#000" stroke-width="1.15"/>
<polygon points="163.60,209.48 161.50,213.12 165.70,213.12" fill="none" stroke="#000" stroke-width="1.15"/>
<polygon points="167.30,211.38 165.20,215.02 169.40,215.02" fill="none" stroke="#000" stroke-width="1.15"/>
<polygon points="182.50,210.58 180.40,214.22 184.60,214.22" fill="none" stroke="#000" stroke-width="1.15"/>
<polygon points="187.10,212.58 185.00,216.22 189.20,216.22" fill="none" stroke="#000" stroke-width="1.15"/>
<polygon points="157.80,217.78 155.70,221.42 159.90,221.42" fill="none" stroke="#000" stroke-width="1.15"/>
<polygon points="166.70,216.78 164.60,220.42 168.80,220.42" fill="none" stroke="#000" stroke-width="1.15"/>
<polygon points="177.10,222.88 175.00,226.52 179.20,226.52" fill="none" stroke="#000" stroke-width="1.15"/>
<polygon points="154.60,230.38 152.50,234.02 156.70,234.02" fill="none" stroke="#000" stroke-width="1.15"/>
<polygon points="160.90,229.28 158.80,232.92 163.00,232.92" fill="none" stroke="#000" stroke-width="1.15"/>
<polygon points="186.00,230.68 183.90,234.32 188.10,234.32" fill="none" stroke="#000" stroke-width="1.15"/>
<polygon points="197.40,240.08 195.30,243.72 199.50,243.72" fill="none" stroke="#000" stroke-width="1.15"/>
<polygon points="154.00,260.18 151.90,263.82 156.10,263.82" fill="none" stroke="#000" stroke-width="1.15"/>
<polygon points="124.00,258.38 121.90,262.02 126.10,262.02" fill="none" stroke="#000" stroke-width="1.15"/>
<polygon points="118.60,239.68 116.50,243.32 120.70,243.32" fill="none" stroke="#000" stroke-width="1.15"/>
<polygon points="273.60,97.38 271.50,101.02 275.70,101.02" fill="none" stroke="#000" stroke-width="1.15"/>
<rect x="193.45" y="146.35" width="2.9" height="2.9" fill="none" stroke="#000" stroke-width="1.0"/>
<rect x="193.45" y="148.85" width="2.9" height="2.9" fill="none" stroke="#000" stroke-width="1.0"/>
<rect x="97.45" y="294.05" width="2.9" height="2.9" fill="none" stroke="#000" stroke-width="1.0"/>
<rect x="94.45" y="303.45" width="2.9" height="2.9" fill="none" stroke="#000" stroke-width="1.0"/>
<rect x="77.45" y="302.05" width="2.9" height="2.9" fill="none" stroke="#000" stroke-width="1.0"/>
<rect x="76.05" y="313.45" width="2.9" height="2.9" fill="none" stroke="#000" stroke-width="1.0"/>
<rect x="76.05" y="316.85" width="2.9" height="2.9" fill="none" stroke="#000" stroke-width="1.0"/>
<rect x="60.85" y="309.55" width="2.9" height="2.9" fill="none" stroke="#000" stroke-width="1.0"/>
<rect x="56.25" y="330.05" width="2.9" height="2.9" fill="none" stroke="#000" stroke-width="1.0"/>
<rect x="62.65" y="341.05" width="2.9" height="2.9" fill="none" stroke="#000" stroke-width="1.0"/>
<rect x="53.55" y="345.25" width="2.9" height="2.9" fill="none" stroke="#000" stroke-width="1.0"/>
<rect x="85.05" y="309.05" width="2.9" height="2.9" fill="none" stroke="#000" stroke-width="1.0"/>
<circle cx="420.80" cy="171.70" r="1.8" fill="none" stroke="#000" stroke-width="1.05"/>
<circle cx="444.90" cy="219.40" r="1.8" fill="none" stroke="#000" stroke-width="1.05"/>
<circle cx="444.70" cy="241.50" r="1.8" fill="none" stroke="#000" stroke-width="1.05"/>
<circle cx="431.10" cy="242.90" r="1.8" fill="none" stroke="#000" stroke-width="1.05"/>
<circle cx="424.10" cy="251.80" r="1.8" fill="none" stroke="#000" stroke-width="1.05"/>
<circle cx="426.70" cy="261.30" r="1.8" fill="none" stroke="#000" stroke-width="1.05"/>
<circle cx="431.00" cy="264.80" r="1.8" fill="none" stroke="#000" stroke-width="1.05"/>
<circle cx="429.80" cy="269.40" r="1.8" fill="none" stroke="#000" stroke-width="1.05"/>
<circle cx="435.60" cy="272.00" r="1.8" fill="none" stroke="#000" stroke-width="1.05"/>
<circle cx="457.00" cy="269.70" r="1.8" fill="none" stroke="#000" stroke-width="1.05"/>
<circle cx="459.80" cy="270.20" r="1.8" fill="none" stroke="#000" stroke-width="1.05"/>
<circle cx="428.70" cy="280.30" r="1.8" fill="none" stroke="#000" stroke-width="1.05"/>
<circle cx="434.40" cy="282.40" r="1.8" fill="none" stroke="#000" stroke-width="1.05"/>
<circle cx="438.20" cy="280.60" r="1.8" fill="none" stroke="#000" stroke-width="1.05"/>
<circle cx="440.00" cy="283.50" r="1.8" fill="none" stroke="#000" stroke-width="1.05"/>
<circle cx="444.30" cy="283.50" r="1.8" fill="none" stroke="#000" stroke-width="1.05"/>
<circle cx="448.60" cy="280.60" r="1.8" fill="none" stroke="#000" stroke-width="1.05"/>
<circle cx="451.50" cy="280.60" r="1.8" fill="none" stroke="#000" stroke-width="1.05"/>
<circle cx="448.00" cy="284.00" r="1.8" fill="none" stroke="#000" stroke-width="1.05"/>
<circle cx="436.30" cy="287.00" r="1.8" fill="none" stroke="#000" stroke-width="1.05"/>
<circle cx="442.30" cy="288.40" r="1.8" fill="none" stroke="#000" stroke-width="1.05"/>
<circle cx="449.20" cy="288.40" r="1.9000000000000001" fill="none" stroke="#000" stroke-width="1.9"/>
<circle cx="458.50" cy="284.40" r="1.8" fill="none" stroke="#000" stroke-width="1.05"/>
<circle cx="444.40" cy="292.20" r="1.8" fill="none" stroke="#000" stroke-width="1.05"/>
<circle cx="449.90" cy="292.90" r="1.8" fill="none" stroke="#000" stroke-width="1.05"/>
<circle cx="431.90" cy="292.50" r="1.8" fill="none" stroke="#000" stroke-width="1.05"/>
<circle cx="436.10" cy="293.80" r="1.8" fill="none" stroke="#000" stroke-width="1.05"/>
<circle cx="433.00" cy="296.30" r="1.8" fill="none" stroke="#000" stroke-width="1.05"/>
<circle cx="437.40" cy="298.40" r="1.8" fill="none" stroke="#000" stroke-width="1.05"/>
<circle cx="432.30" cy="300.80" r="1.8" fill="none" stroke="#000" stroke-width="1.05"/>
<circle cx="441.60" cy="301.00" r="1.8" fill="none" stroke="#000" stroke-width="1.05"/>
<circle cx="448.50" cy="304.30" r="1.8" fill="none" stroke="#000" stroke-width="1.05"/>
<circle cx="451.60" cy="305.30" r="1.8" fill="none" stroke="#000" stroke-width="1.05"/>
<circle cx="456.10" cy="301.90" r="1.8" fill="none" stroke="#000" stroke-width="1.05"/>
<circle cx="456.50" cy="305.30" r="1.8" fill="none" stroke="#000" stroke-width="1.05"/>
<circle cx="463.30" cy="292.90" r="1.8" fill="none" stroke="#000" stroke-width="1.05"/>
<circle cx="460.40" cy="295.80" r="1.8" fill="none" stroke="#000" stroke-width="1.05"/>
<circle cx="468.70" cy="299.10" r="1.8" fill="none" stroke="#000" stroke-width="1.05"/>
<circle cx="480.60" cy="293.90" r="1.8" fill="none" stroke="#000" stroke-width="1.05"/>
<circle cx="481.60" cy="298.10" r="1.8" fill="none" stroke="#000" stroke-width="1.05"/>
<circle cx="468.70" cy="305.70" r="1.8" fill="none" stroke="#000" stroke-width="1.05"/>
<circle cx="482.30" cy="304.60" r="1.8" fill="none" stroke="#000" stroke-width="1.05"/>
<circle cx="482.70" cy="307.00" r="1.8" fill="none" stroke="#000" stroke-width="1.05"/>
<circle cx="504.40" cy="312.90" r="1.8" fill="none" stroke="#000" stroke-width="1.05"/>
<circle cx="493.30" cy="327.80" r="1.8" fill="none" stroke="#000" stroke-width="1.05"/>
<circle cx="492.50" cy="335.30" r="1.8" fill="none" stroke="#000" stroke-width="1.05"/>
<circle cx="490.20" cy="342.20" r="1.8" fill="none" stroke="#000" stroke-width="1.05"/>
<circle cx="496.80" cy="342.00" r="1.8" fill="none" stroke="#000" stroke-width="1.05"/>
<circle cx="446.70" cy="308.20" r="1.8" fill="none" stroke="#000" stroke-width="1.05"/>
<circle cx="459.00" cy="309.80" r="1.8" fill="none" stroke="#000" stroke-width="1.05"/>
<circle cx="461.30" cy="314.80" r="1.8" fill="none" stroke="#000" stroke-width="1.05"/>
<circle cx="441.20" cy="310.20" r="1.8" fill="none" stroke="#000" stroke-width="1.05"/>
<circle cx="442.90" cy="314.00" r="1.8" fill="none" stroke="#000" stroke-width="1.05"/>
<circle cx="446.30" cy="317.40" r="1.8" fill="none" stroke="#000" stroke-width="1.05"/>
<circle cx="451.50" cy="315.90" r="1.8" fill="none" stroke="#000" stroke-width="1.05"/>
<circle cx="453.20" cy="319.40" r="1.8" fill="none" stroke="#000" stroke-width="1.05"/>
<circle cx="445.80" cy="321.70" r="1.8" fill="none" stroke="#000" stroke-width="1.05"/>
<circle cx="451.50" cy="323.20" r="1.8" fill="none" stroke="#000" stroke-width="1.05"/>
<circle cx="464.00" cy="320.60" r="1.8" fill="none" stroke="#000" stroke-width="1.05"/>
<circle cx="449.80" cy="326.70" r="1.8" fill="none" stroke="#000" stroke-width="1.05"/>
<circle cx="451.50" cy="329.80" r="1.8" fill="none" stroke="#000" stroke-width="1.05"/>
<circle cx="455.90" cy="329.80" r="1.8" fill="none" stroke="#000" stroke-width="1.05"/>
<circle cx="443.20" cy="332.10" r="1.8" fill="none" stroke="#000" stroke-width="1.05"/>
<circle cx="450.60" cy="334.70" r="1.8" fill="none" stroke="#000" stroke-width="1.05"/>
<circle cx="446.90" cy="340.10" r="1.8" fill="none" stroke="#000" stroke-width="1.05"/>
<circle cx="447.80" cy="347.60" r="1.8" fill="none" stroke="#000" stroke-width="1.05"/>
<circle cx="469.70" cy="337.30" r="1.8" fill="none" stroke="#000" stroke-width="1.05"/>
<circle cx="467.60" cy="340.10" r="1.8" fill="none" stroke="#000" stroke-width="1.05"/>
<circle cx="471.10" cy="340.70" r="1.8" fill="none" stroke="#000" stroke-width="1.05"/>
<circle cx="474.30" cy="339.80" r="1.8" fill="none" stroke="#000" stroke-width="1.05"/>
<circle cx="474.30" cy="348.20" r="1.8" fill="none" stroke="#000" stroke-width="1.05"/>
<circle cx="482.90" cy="339.00" r="1.8" fill="none" stroke="#000" stroke-width="1.05"/>
<circle cx="486.10" cy="340.10" r="1.8" fill="none" stroke="#000" stroke-width="1.05"/>
<circle cx="488.40" cy="348.80" r="1.8" fill="none" stroke="#000" stroke-width="1.05"/>
<circle cx="457.30" cy="351.70" r="1.9000000000000001" fill="none" stroke="#000" stroke-width="1.9"/>
<circle cx="455.00" cy="352.20" r="1.8" fill="none" stroke="#000" stroke-width="1.05"/>
<circle cx="421.20" cy="315.60" r="1.8" fill="none" stroke="#000" stroke-width="1.05"/>
<circle cx="430.50" cy="317.80" r="1.8" fill="none" stroke="#000" stroke-width="1.05"/>
<circle cx="438.10" cy="316.40" r="1.8" fill="none" stroke="#000" stroke-width="1.05"/>
<circle cx="436.10" cy="327.40" r="1.8" fill="none" stroke="#000" stroke-width="1.05"/>
<circle cx="427.50" cy="339.50" r="1.8" fill="none" stroke="#000" stroke-width="1.05"/>
<circle cx="422.70" cy="348.70" r="1.8" fill="none" stroke="#000" stroke-width="1.05"/>
<circle cx="435.50" cy="361.50" r="1.9000000000000001" fill="none" stroke="#000" stroke-width="1.9"/>
<circle cx="452.00" cy="363.00" r="1.8" fill="none" stroke="#000" stroke-width="1.05"/>
<circle cx="492.70" cy="359.80" r="1.8" fill="none" stroke="#000" stroke-width="1.05"/>
<circle cx="475.70" cy="361.60" r="1.8" fill="none" stroke="#000" stroke-width="1.05"/>
<circle cx="491.70" cy="364.90" r="1.8" fill="none" stroke="#000" stroke-width="1.05"/>
<circle cx="469.00" cy="366.60" r="1.8" fill="none" stroke="#000" stroke-width="1.05"/>
<circle cx="480.70" cy="370.00" r="1.8" fill="none" stroke="#000" stroke-width="1.05"/>
<circle cx="490.90" cy="368.50" r="1.8" fill="none" stroke="#000" stroke-width="1.05"/>
<circle cx="492.70" cy="371.40" r="1.8" fill="none" stroke="#000" stroke-width="1.05"/>
<circle cx="485.30" cy="373.30" r="1.8" fill="none" stroke="#000" stroke-width="1.05"/>
<circle cx="489.10" cy="372.60" r="1.8" fill="none" stroke="#000" stroke-width="1.05"/>
<circle cx="482.50" cy="376.20" r="1.8" fill="none" stroke="#000" stroke-width="1.05"/>
<circle cx="489.10" cy="375.70" r="1.8" fill="none" stroke="#000" stroke-width="1.05"/>
<circle cx="476.50" cy="380.10" r="1.8" fill="none" stroke="#000" stroke-width="1.05"/>
<circle cx="484.60" cy="383.70" r="1.8" fill="none" stroke="#000" stroke-width="1.05"/>
<circle cx="503.60" cy="356.40" r="1.8" fill="none" stroke="#000" stroke-width="1.05"/>
<circle cx="512.10" cy="355.00" r="1.8" fill="none" stroke="#000" stroke-width="1.05"/>
<circle cx="548.10" cy="364.00" r="1.8" fill="none" stroke="#000" stroke-width="1.05"/>
<circle cx="502.10" cy="384.60" r="1.8" fill="none" stroke="#000" stroke-width="1.05"/>
<circle cx="575.70" cy="388.90" r="1.8" fill="none" stroke="#000" stroke-width="1.05"/>
<polygon points="416.70,65.47 414.70,68.93 418.70,68.93" fill="none" stroke="#000" stroke-width="0.95"/>
<polygon points="435.30,102.47 433.30,105.93 437.30,105.93" fill="none" stroke="#000" stroke-width="0.95"/>
<polygon points="429.70,162.97 427.70,166.43 431.70,166.43" fill="none" stroke="#000" stroke-width="0.95"/>
<polygon points="447.50,176.27 445.50,179.73 449.50,179.73" fill="none" stroke="#000" stroke-width="0.95"/>
<polygon points="480.80,197.97 478.80,201.43 482.80,201.43" fill="none" stroke="#000" stroke-width="0.95"/>
<polygon points="444.40,224.97 442.40,228.43 446.40,228.43" fill="none" stroke="#000" stroke-width="0.95"/>
<polygon points="435.70,232.87 433.70,236.33 437.70,236.33" fill="none" stroke="#000" stroke-width="0.95"/>
<polygon points="417.90,226.17 415.90,229.63 419.90,229.63" fill="none" stroke="#000" stroke-width="0.95"/>
<polygon points="428.20,243.17 426.20,246.63 430.20,246.63" fill="none" stroke="#000" stroke-width="0.95"/>
<polygon points="450.80,235.97 448.80,239.43 452.80,239.43" fill="none" stroke="#000" stroke-width="0.95"/>
<polygon points="464.20,243.27 462.20,246.73 466.20,246.73" fill="none" stroke="#000" stroke-width="0.95"/>
<polygon points="448.90,256.17 446.90,259.63 450.90,259.63" fill="none" stroke="#000" stroke-width="0.95"/>
<polygon points="449.70,259.57 447.70,263.03 451.70,263.03" fill="none" stroke="#000" stroke-width="0.95"/>
<polygon points="453.50,273.37 451.50,276.83 455.50,276.83" fill="none" stroke="#000" stroke-width="0.95"/>
<polygon points="444.00,277.97 442.00,281.43 446.00,281.43" fill="none" stroke="#000" stroke-width="0.95"/>
<polygon points="453.20,281.17 451.20,284.63 455.20,284.63" fill="none" stroke="#000" stroke-width="0.95"/>
<polygon points="458.40,275.67 456.40,279.13 460.40,279.13" fill="none" stroke="#000" stroke-width="0.95"/>
<polygon points="466.50,263.37 464.50,266.83 468.50,266.83" fill="none" stroke="#000" stroke-width="0.95"/>
<polygon points="475.70,264.57 473.70,268.03 477.70,268.03" fill="none" stroke="#000" stroke-width="0.95"/>
<polygon points="480.90,267.07 478.90,270.53 482.90,270.53" fill="none" stroke="#000" stroke-width="0.95"/>
<polygon points="489.30,271.07 487.30,274.53 491.30,274.53" fill="none" stroke="#000" stroke-width="0.95"/>
<polygon points="484.70,280.27 482.70,283.73 486.70,283.73" fill="none" stroke="#000" stroke-width="0.95"/>
<polygon points="463.60,279.17 461.60,282.63 465.60,282.63" fill="none" stroke="#000" stroke-width="0.95"/>
<polygon points="458.80,287.37 456.80,290.83 460.80,290.83" fill="none" stroke="#000" stroke-width="0.95"/>
<polygon points="458.10,280.77 456.10,284.23 460.10,284.23" fill="#000" stroke="#000" stroke-width="0.95"/>
<polygon points="519.90,305.57 517.90,309.03 521.90,309.03" fill="none" stroke="#000" stroke-width="0.95"/>
<polygon points="497.40,305.67 495.40,309.13 499.40,309.13" fill="none" stroke="#000" stroke-width="0.95"/>
<polygon points="489.40,316.27 487.40,319.73 491.40,319.73" fill="none" stroke="#000" stroke-width="0.95"/>
<polygon points="489.00,331.87 487.00,335.33 491.00,335.33" fill="none" stroke="#000" stroke-width="0.95"/>
<polygon points="504.00,331.27 502.00,334.73 506.00,334.73" fill="none" stroke="#000" stroke-width="0.95"/>
<polygon points="503.20,336.17 501.20,339.63 505.20,339.63" fill="none" stroke="#000" stroke-width="0.95"/>
<polygon points="502.30,342.77 500.30,346.23 504.30,346.23" fill="none" stroke="#000" stroke-width="0.95"/>
<polygon points="480.90,302.57 478.90,306.03 482.90,306.03" fill="none" stroke="#000" stroke-width="0.95"/>
<polygon points="454.40,313.67 452.40,317.13 456.40,317.13" fill="none" stroke="#000" stroke-width="0.95"/>
<polygon points="456.10,315.37 454.10,318.83 458.10,318.83" fill="#000" stroke="#000" stroke-width="0.95"/>
<polygon points="472.00,319.97 470.00,323.43 474.00,323.43" fill="none" stroke="#000" stroke-width="0.95"/>
<polygon points="482.40,318.27 480.40,321.73 484.40,321.73" fill="none" stroke="#000" stroke-width="0.95"/>
<polygon points="484.90,334.97 482.90,338.43 486.90,338.43" fill="none" stroke="#000" stroke-width="0.95"/>
<polygon points="452.70,351.67 450.70,355.13 454.70,355.13" fill="none" stroke="#000" stroke-width="0.95"/>
<polygon points="494.10,345.67 492.10,349.13 496.10,349.13" fill="none" stroke="#000" stroke-width="0.95"/>
<polygon points="499.60,346.67 497.60,350.13 501.60,350.13" fill="none" stroke="#000" stroke-width="0.95"/>
<polygon points="495.30,354.47 493.30,357.93 497.30,357.93" fill="none" stroke="#000" stroke-width="0.95"/>
<polygon points="479.50,359.27 477.50,362.73 481.50,362.73" fill="none" stroke="#000" stroke-width="0.95"/>
<polygon points="486.70,361.97 484.70,365.43 488.70,365.43" fill="none" stroke="#000" stroke-width="0.95"/>
<polygon points="465.70,363.97 463.70,367.43 467.70,367.43" fill="none" stroke="#000" stroke-width="0.95"/>
<polygon points="481.90,381.97 479.90,385.43 483.90,385.43" fill="none" stroke="#000" stroke-width="0.95"/>
<polygon points="467.80,388.57 465.80,392.03 469.80,392.03" fill="none" stroke="#000" stroke-width="0.95"/>
<polygon points="507.60,348.97 505.60,352.43 509.60,352.43" fill="none" stroke="#000" stroke-width="0.95"/>
<polygon points="522.40,377.57 520.40,381.03 524.40,381.03" fill="none" stroke="#000" stroke-width="0.95"/>
<rect x="387.75" y="87.25" width="2.9" height="2.9" fill="none" stroke="#000" stroke-width="1.0"/>
<rect x="393.85" y="147.75" width="2.9" height="2.9" fill="none" stroke="#000" stroke-width="1.0"/>
<rect x="360.35" y="176.35" width="2.9" height="2.9" fill="none" stroke="#000" stroke-width="1.0"/>
<rect x="363.15" y="192.05" width="2.9" height="2.9" fill="none" stroke="#000" stroke-width="1.0"/>
<rect x="383.45" y="205.25" width="2.9" height="2.9" fill="none" stroke="#000" stroke-width="1.0"/>
<rect x="370.55" y="218.05" width="2.9" height="2.9" fill="none" stroke="#000" stroke-width="1.0"/>
<rect x="381.35" y="276.35" width="2.9" height="2.9" fill="none" stroke="#000" stroke-width="1.0"/>
<rect x="388.65" y="287.55" width="2.9" height="2.9" fill="none" stroke="#000" stroke-width="1.0"/>
<rect x="378.95" y="291.55" width="2.9" height="2.9" fill="none" stroke="#000" stroke-width="1.0"/>
<rect x="383.85" y="312.05" width="2.9" height="2.9" fill="none" stroke="#000" stroke-width="1.0"/>
<rect x="34.6" y="9.2" width="247.90" height="384.10" fill="none" stroke="#000" stroke-width="1.2"/>
<rect x="332.6" y="9.2" width="247.70" height="384.10" fill="none" stroke="#000" stroke-width="1.2"/>
<rect x="89.5" y="25.8" width="102.9" height="46.5" fill="#fff" stroke="#000" stroke-width="1"/>
<rect x="96.15" y="34.55" width="2.9" height="2.9" fill="none" stroke="#000" stroke-width="1.0"/>
<polygon points="97.60,47.87 95.60,51.33 99.60,51.33" fill="none" stroke="#000" stroke-width="0.95"/>
<circle cx="97.60" cy="63.60" r="1.8" fill="none" stroke="#000" stroke-width="1.05"/>
<g fill="#000"><text transform="translate(29.80,380.30) scale(1,1.13)" font-size="15" text-anchor="end" >0</text>
<text transform="translate(29.80,288.90) scale(1,1.13)" font-size="15" text-anchor="end" >1</text>
<text transform="translate(29.80,197.50) scale(1,1.13)" font-size="15" text-anchor="end" >2</text>
<text transform="translate(29.80,106.10) scale(1,1.13)" font-size="15" text-anchor="end" >3</text>
<text transform="translate(29.80,14.70) scale(1,1.13)" font-size="15" text-anchor="end" >4</text>
<text transform="translate(43.80,409.80) scale(1,1.13)" font-size="15" text-anchor="middle" >0.0</text>
<text transform="translate(103.55,409.80) scale(1,1.13)" font-size="15" text-anchor="middle" >0.5</text>
<text transform="translate(163.30,409.80) scale(1,1.13)" font-size="15" text-anchor="middle" >1.0</text>
<text transform="translate(223.05,409.80) scale(1,1.13)" font-size="15" text-anchor="middle" >1.5</text>
<text transform="translate(282.80,409.80) scale(1,1.13)" font-size="15" text-anchor="middle" >2.0</text>
<text transform="translate(327.50,14.70) scale(1,1.13)" font-size="15" text-anchor="end" >6</text>
<text transform="translate(327.50,49.62) scale(1,1.13)" font-size="15" text-anchor="end" >7</text>
<text transform="translate(327.50,84.54) scale(1,1.13)" font-size="15" text-anchor="end" >8</text>
<text transform="translate(327.50,119.46) scale(1,1.13)" font-size="15" text-anchor="end" >9</text>
<text transform="translate(327.50,154.38) scale(1,1.13)" font-size="15" text-anchor="end" >10</text>
<text transform="translate(327.50,189.30) scale(1,1.13)" font-size="15" text-anchor="end" >11</text>
<text transform="translate(327.50,224.22) scale(1,1.13)" font-size="15" text-anchor="end" >12</text>
<text transform="translate(327.50,259.14) scale(1,1.13)" font-size="15" text-anchor="end" >13</text>
<text transform="translate(327.50,294.06) scale(1,1.13)" font-size="15" text-anchor="end" >14</text>
<text transform="translate(327.50,328.98) scale(1,1.13)" font-size="15" text-anchor="end" >15</text>
<text transform="translate(327.50,363.90) scale(1,1.13)" font-size="15" text-anchor="end" >16</text>
<text transform="translate(327.50,398.82) scale(1,1.13)" font-size="15" text-anchor="end" >17</text>
<text transform="translate(344.50,409.80) scale(1,1.13)" font-size="15" text-anchor="middle" >0</text>
<text transform="translate(403.60,409.80) scale(1,1.13)" font-size="15" text-anchor="middle" >1</text>
<text transform="translate(462.70,409.80) scale(1,1.13)" font-size="15" text-anchor="middle" >2</text>
<text transform="translate(521.80,409.80) scale(1,1.13)" font-size="15" text-anchor="middle" >3</text>
<text transform="translate(580.90,409.80) scale(1,1.13)" font-size="15" text-anchor="middle" >4</text>
<text x="0.00" y="0.00" font-size="15" text-anchor="middle" transform="translate(12.2,192) rotate(-90)">J - H [mag]</text>
<text transform="translate(158.5,425.9) scale(1,1.09)" font-size="15" text-anchor="middle">H - K<tspan font-size="11.5" dy="5">s</tspan><tspan dy="-5"> [mag]</tspan></text>
<text transform="translate(457.00,425.80) scale(1,1.09)" font-size="15" text-anchor="middle" >J-H [mag]</text>
<text x="0.00" y="0.00" font-size="15" text-anchor="middle" transform="translate(596.3,201.2) rotate(-90)">J [mag]</text>
<text x="45.60" y="31.60" font-size="14" text-anchor="start" >(a)</text>
<text x="344.20" y="32.60" font-size="14" text-anchor="start" >(b)</text>
<text transform="translate(111.80,39.30) scale(1,1.14)" font-size="10.7" text-anchor="start" >10 Foreground</text>
<text transform="translate(111.80,53.70) scale(1,1.14)" font-size="10.7" text-anchor="start" >55 Ks-excess</text>
<text transform="translate(111.80,67.70) scale(1,1.14)" font-size="10.7" text-anchor="start" >109 no Ks-excess</text>
<text transform="translate(385.5,108.5) rotate(57.3)" font-size="9.6" text-anchor="middle" dominant-baseline="central">4M<tspan font-size="7.2" dy="1.5">o</tspan></text>
<text transform="translate(400.3,189.6) rotate(57.3)" font-size="9.6" text-anchor="middle" dominant-baseline="central">1.5M<tspan font-size="7.2" dy="1.5">o</tspan></text>
<text transform="translate(404.5,242.6) rotate(57.3)" font-size="9.6" text-anchor="middle" dominant-baseline="central">0.5M<tspan font-size="7.2" dy="1.5">o</tspan></text>
<text transform="translate(403.1,282.6) rotate(57.3)" font-size="9.6" text-anchor="middle" dominant-baseline="central">0.2M<tspan font-size="7.2" dy="1.5">o</tspan></text>
<text transform="translate(401.8,324.5) rotate(57.3)" font-size="9.6" text-anchor="middle" dominant-baseline="central">0.1M<tspan font-size="7.2" dy="1.5">o</tspan></text></g>
</svg></body></html>
